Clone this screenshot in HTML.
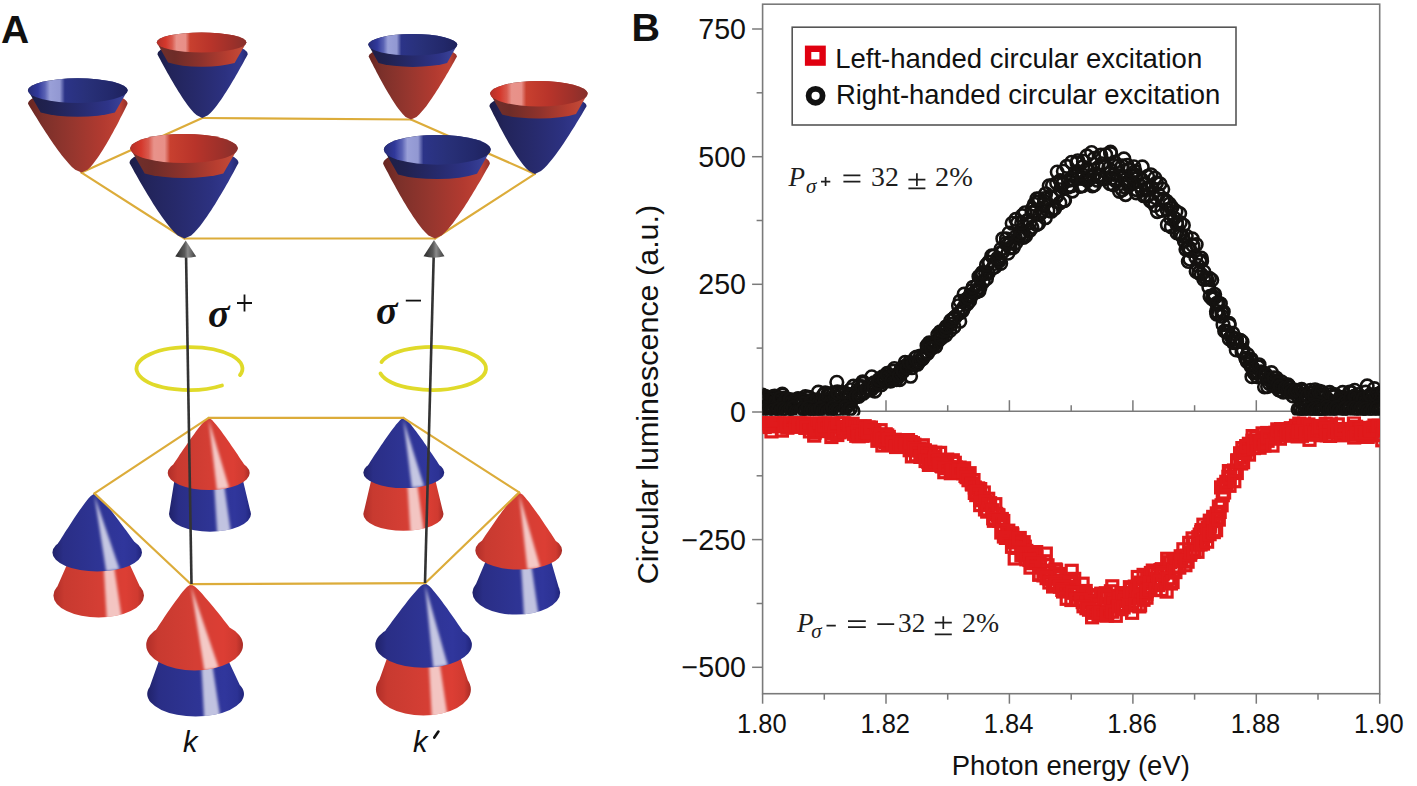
<!DOCTYPE html>
<html><head><meta charset="utf-8"><style>
html,body{margin:0;padding:0;background:#fff;}
svg{display:block;}
</style></head><body>
<svg width="1417" height="786" viewBox="0 0 1417 786">
<rect width="1417" height="786" fill="#fff"/>
<defs><linearGradient id="cbR" x1="0" y1="0" x2="1" y2="0"><stop offset="0" stop-color="#682622"/><stop offset="0.15" stop-color="#7c302a"/><stop offset="0.45" stop-color="#96362e"/><stop offset="0.75" stop-color="#b23a30"/><stop offset="0.92" stop-color="#c04234"/><stop offset="1" stop-color="#92302a"/></linearGradient><linearGradient id="cbB" x1="0" y1="0" x2="1" y2="0"><stop offset="0" stop-color="#1c1d48"/><stop offset="0.15" stop-color="#22245a"/><stop offset="0.45" stop-color="#272a6c"/><stop offset="0.75" stop-color="#2c3180"/><stop offset="0.92" stop-color="#32388e"/><stop offset="1" stop-color="#242870"/></linearGradient><linearGradient id="ciR" x1="0" y1="0" x2="1" y2="0"><stop offset="0" stop-color="#b43028"/><stop offset="0.1" stop-color="#d4382c"/><stop offset="0.17" stop-color="#d85a4e"/><stop offset="0.22" stop-color="#e8928a"/><stop offset="0.32" stop-color="#e89088"/><stop offset="0.37" stop-color="#c8402f"/><stop offset="0.6" stop-color="#b8342a"/><stop offset="0.85" stop-color="#9c302a"/><stop offset="1" stop-color="#86302c"/></linearGradient><linearGradient id="ciB" x1="0" y1="0" x2="1" y2="0"><stop offset="0" stop-color="#262c78"/><stop offset="0.1" stop-color="#30389a"/><stop offset="0.17" stop-color="#5a62b4"/><stop offset="0.22" stop-color="#9aa0d8"/><stop offset="0.32" stop-color="#9298d2"/><stop offset="0.37" stop-color="#2c3488"/><stop offset="0.6" stop-color="#283078"/><stop offset="0.85" stop-color="#22286a"/><stop offset="1" stop-color="#1e225c"/></linearGradient><linearGradient id="cdR" x1="0" y1="0" x2="1" y2="0"><stop offset="0" stop-color="#70302c"/><stop offset="0.2" stop-color="#6e2c28"/><stop offset="0.5" stop-color="#8e322c"/><stop offset="0.8" stop-color="#b83e30"/><stop offset="0.95" stop-color="#c24a38"/><stop offset="1" stop-color="#9a3a30"/></linearGradient><linearGradient id="cdB" x1="0" y1="0" x2="1" y2="0"><stop offset="0" stop-color="#1e1e44"/><stop offset="0.2" stop-color="#202250"/><stop offset="0.5" stop-color="#262a6c"/><stop offset="0.8" stop-color="#2e3488"/><stop offset="0.95" stop-color="#3a4298"/><stop offset="1" stop-color="#2a3080"/></linearGradient><linearGradient id="tR" x1="0" y1="0" x2="1" y2="0"><stop offset="0" stop-color="#b02e28"/><stop offset="0.12" stop-color="#c83a30"/><stop offset="0.5" stop-color="#d43e34"/><stop offset="0.8" stop-color="#dc3e34"/><stop offset="0.93" stop-color="#d03a30"/><stop offset="1" stop-color="#a82c26"/></linearGradient><linearGradient id="tB" x1="0" y1="0" x2="1" y2="0"><stop offset="0" stop-color="#20226a"/><stop offset="0.12" stop-color="#2a2e86"/><stop offset="0.5" stop-color="#2e3494"/><stop offset="0.8" stop-color="#30369c"/><stop offset="0.93" stop-color="#2c3294"/><stop offset="1" stop-color="#20247a"/></linearGradient><linearGradient id="fR" x1="0" y1="0" x2="1" y2="0"><stop offset="0" stop-color="#b02e28"/><stop offset="0.12" stop-color="#c83a30"/><stop offset="0.5" stop-color="#d43e34"/><stop offset="0.8" stop-color="#dc3e34"/><stop offset="0.93" stop-color="#d03a30"/><stop offset="1" stop-color="#a82c26"/></linearGradient><linearGradient id="fB" x1="0" y1="0" x2="1" y2="0"><stop offset="0" stop-color="#20226a"/><stop offset="0.12" stop-color="#2a2e86"/><stop offset="0.5" stop-color="#2e3494"/><stop offset="0.8" stop-color="#30369c"/><stop offset="0.93" stop-color="#2c3294"/><stop offset="1" stop-color="#20247a"/></linearGradient><filter id="bl2" x="-50%" y="-10%" width="200%" height="120%"><feGaussianBlur stdDeviation="1.8"/></filter><linearGradient id="arr" x1="0" y1="0" x2="1" y2="0"><stop offset="0" stop-color="#2a2a2a"/><stop offset="0.45" stop-color="#5a5a5a"/><stop offset="0.6" stop-color="#8a8a8a"/><stop offset="1" stop-color="#3a3a3a"/></linearGradient></defs>
<line x1="202.3" y1="118.0" x2="411.0" y2="119.5" stroke="#dcac3a" stroke-width="2.2" stroke-linecap="round"/>
<line x1="202.3" y1="118.0" x2="81.5" y2="172.6" stroke="#dcac3a" stroke-width="2.2" stroke-linecap="round"/>
<line x1="81.5" y1="172.6" x2="184.5" y2="238.5" stroke="#dcac3a" stroke-width="2.2" stroke-linecap="round"/>
<line x1="184.5" y1="238.5" x2="435.0" y2="238.5" stroke="#dcac3a" stroke-width="2.2" stroke-linecap="round"/>
<line x1="435.0" y1="238.5" x2="534.9" y2="173.9" stroke="#dcac3a" stroke-width="2.2" stroke-linecap="round"/>
<line x1="534.9" y1="173.9" x2="411.0" y2="119.5" stroke="#dcac3a" stroke-width="2.2" stroke-linecap="round"/>
<path d="M157.4,54.3 158.8,57.0 160.2,59.6 161.6,62.3 163.1,64.9 164.5,67.6 166.0,70.2 167.5,72.9 169.0,75.5 170.5,78.2 172.0,80.8 173.6,83.5 175.2,86.2 176.8,88.8 178.4,91.5 180.1,94.1 181.8,96.8 183.6,99.4 185.4,102.1 187.3,104.7 189.4,107.4 191.5,110.0 193.9,112.7 196.8,115.3 202.3,118.0 L207.9,115.3 210.7,112.7 213.2,110.0 215.3,107.4 217.4,104.7 219.3,102.1 221.2,99.4 223.0,96.8 224.7,94.1 226.4,91.5 228.1,88.8 229.7,86.2 231.3,83.5 232.9,80.8 234.5,78.2 236.0,75.5 237.5,72.9 239.0,70.2 240.5,67.6 242.0,64.9 243.5,62.3 244.9,59.6 246.4,57.0 247.8,54.3 A45.2,12.5 0 0 0 157.4,54.3 Z" fill="url(#cbB)"/><path d="M156.8,42.4 L168.1,62.4 A45.2,12.5 0 0 0 234.6,63.1 L246.4,42.4 A44.8,10.0 0 0 0 156.8,42.4 Z" fill="url(#cdR)"/><ellipse cx="201.6" cy="42.4" rx="44.8" ry="10.0" fill="url(#ciR)"/>
<path d="M368.6,56.4 369.9,59.0 371.2,61.7 372.6,64.3 373.9,66.9 375.3,69.5 376.6,72.2 378.0,74.8 379.4,77.4 380.8,80.1 382.3,82.7 383.7,85.3 385.2,88.0 386.7,90.6 388.3,93.2 389.9,95.8 391.5,98.5 393.1,101.1 394.9,103.7 396.7,106.4 398.6,109.0 400.6,111.6 402.9,114.2 405.6,116.9 411.0,119.5 L416.5,116.9 419.4,114.2 421.8,111.6 424.0,109.0 426.1,106.4 428.0,103.7 429.9,101.1 431.7,98.5 433.5,95.8 435.2,93.2 436.9,90.6 438.6,88.0 440.2,85.3 441.8,82.7 443.4,80.1 445.0,77.4 446.5,74.8 448.1,72.2 449.6,69.5 451.1,66.9 452.6,64.3 454.1,61.7 455.5,59.0 457.0,56.4 A44.2,10.5 0 0 0 368.6,56.4 Z" fill="url(#cbR)"/><path d="M368.3,44.8 L378.5,63.0 A44.2,10.5 0 0 0 447.1,63.0 L457.3,44.8 A44.5,10.8 0 0 0 368.3,44.8 Z" fill="url(#cdB)"/><ellipse cx="412.8" cy="44.8" rx="44.5" ry="10.8" fill="url(#ciB)"/>
<path d="M28.0,103.8 29.7,106.7 31.4,109.5 33.2,112.4 34.9,115.3 36.7,118.1 38.5,121.0 40.3,123.9 42.1,126.7 43.9,129.6 45.8,132.5 47.7,135.3 49.6,138.2 51.5,141.1 53.5,143.9 55.5,146.8 57.6,149.7 59.7,152.5 61.9,155.4 64.2,158.3 66.6,161.1 69.1,164.0 71.9,166.9 75.2,169.7 81.5,172.6 L87.5,169.7 90.5,166.9 93.0,164.0 95.2,161.1 97.3,158.3 99.2,155.4 101.1,152.5 102.9,149.7 104.7,146.8 106.4,143.9 108.1,141.1 109.7,138.2 111.3,135.3 112.9,132.5 114.4,129.6 116.0,126.7 117.5,123.9 119.0,121.0 120.4,118.1 121.9,115.3 123.3,112.4 124.8,109.5 126.2,106.7 127.6,103.8 A49.8,13.0 0 0 0 28.0,103.8 Z" fill="url(#cbR)"/><path d="M28.0,90.6 L40.7,112.5 A49.8,13.0 0 0 0 114.9,112.5 L127.6,90.6 A49.8,12.4 0 0 0 28.0,90.6 Z" fill="url(#cdB)"/><ellipse cx="77.8" cy="90.6" rx="49.8" ry="12.4" fill="url(#ciB)"/>
<path d="M489.4,106.2 490.8,109.0 492.2,111.8 493.6,114.7 495.1,117.5 496.5,120.3 498.0,123.1 499.4,125.9 500.9,128.8 502.4,131.6 504.0,134.4 505.5,137.2 507.1,140.1 508.7,142.9 510.4,145.7 512.1,148.5 513.8,151.3 515.6,154.2 517.4,157.0 519.4,159.8 521.4,162.6 523.7,165.4 526.1,168.3 529.1,171.1 534.9,173.9 L541.0,171.1 544.2,168.3 546.9,165.4 549.4,162.6 551.7,159.8 553.9,157.0 556.0,154.2 558.1,151.3 560.1,148.5 562.0,145.7 563.9,142.9 565.8,140.1 567.6,137.2 569.4,134.4 571.2,131.6 573.0,128.8 574.8,125.9 576.5,123.1 578.2,120.3 579.9,117.5 581.6,114.7 583.3,111.8 584.9,109.0 586.6,106.2 A48.6,12.3 0 0 0 489.4,106.2 Z" fill="url(#cbB)"/><path d="M490.2,93.7 L502.1,114.5 A48.6,12.3 0 0 0 576.0,113.9 L587.6,93.7 A48.7,12.7 0 0 0 490.2,93.7 Z" fill="url(#cdR)"/><ellipse cx="538.9" cy="93.7" rx="48.7" ry="12.7" fill="url(#ciR)"/>
<path d="M129.5,163.0 131.2,166.1 133.0,169.3 134.7,172.4 136.5,175.6 138.3,178.7 140.1,181.9 141.9,185.0 143.8,188.2 145.6,191.3 147.5,194.5 149.4,197.6 151.4,200.8 153.3,203.9 155.3,207.0 157.4,210.2 159.5,213.3 161.7,216.5 163.9,219.6 166.3,222.8 168.8,225.9 171.4,229.1 174.3,232.2 177.8,235.4 184.5,238.5 L191.2,235.4 194.6,232.2 197.5,229.1 200.1,225.9 202.5,222.8 204.8,219.6 207.0,216.5 209.1,213.3 211.2,210.2 213.2,207.0 215.2,203.9 217.1,200.8 219.0,197.6 220.9,194.5 222.8,191.3 224.6,188.2 226.4,185.0 228.2,181.9 229.9,178.7 231.7,175.6 233.4,172.4 235.1,169.3 236.8,166.1 238.5,163.0 A54.5,15.0 0 0 0 129.5,163.0 Z" fill="url(#cbB)"/><path d="M130.3,148.5 L144.7,173.4 A54.5,15.0 0 0 0 223.3,173.4 L237.7,148.5 A53.7,14.5 0 0 0 130.3,148.5 Z" fill="url(#cdR)"/><ellipse cx="184.0" cy="148.5" rx="53.7" ry="14.5" fill="url(#ciR)"/>
<path d="M383.1,163.8 384.7,166.9 386.3,170.0 388.0,173.1 389.6,176.2 391.3,179.4 393.0,182.5 394.7,185.6 396.4,188.7 398.1,191.8 399.9,194.9 401.7,198.0 403.5,201.2 405.4,204.3 407.3,207.4 409.2,210.5 411.2,213.6 413.2,216.7 415.4,219.8 417.6,222.9 419.9,226.1 422.4,229.2 425.2,232.3 428.5,235.4 435.0,238.5 L441.6,235.4 445.1,232.3 448.0,229.2 450.6,226.1 453.1,222.9 455.4,219.8 457.6,216.7 459.8,213.6 461.9,210.5 464.0,207.4 466.0,204.3 468.0,201.2 469.9,198.0 471.8,194.9 473.7,191.8 475.6,188.7 477.4,185.6 479.3,182.5 481.1,179.4 482.9,176.2 484.7,173.1 486.4,170.0 488.2,166.9 489.9,163.8 A53.4,15.3 0 0 0 383.1,163.8 Z" fill="url(#cbR)"/><path d="M383.9,149.8 L398.0,174.4 A53.4,15.3 0 0 0 477.0,173.8 L490.7,149.8 A53.4,14.9 0 0 0 383.9,149.8 Z" fill="url(#cdB)"/><ellipse cx="437.3" cy="149.8" rx="53.4" ry="14.9" fill="url(#ciB)"/>
<clipPath id="fc1"><path d="M175.6,473.0 L241.2,473.0 L251.0,514.0 A41.0,17.7 0 0 1 169.0,514.0 Z M251.0,514.0 A41.0,17.7 0 1 1 169.0,514.0 A41.0,17.7 0 1 1 251.0,514.0 Z"/></clipPath><path d="M175.6,473.0 L241.2,473.0 L251.0,514.0 A41.0,17.7 0 0 1 169.0,514.0 Z M251.0,514.0 A41.0,17.7 0 1 1 169.0,514.0 A41.0,17.7 0 1 1 251.0,514.0 Z" fill="url(#fB)"/><path clip-path="url(#fc1)" d="M213.4,473.0 L222.4,473.0 L231.3,535.7 L217.4,535.7 Z" fill="#fff" fill-opacity="0.7" filter="url(#bl2)"/><clipPath id="tc1"><path d="M167.7,473.0 169.2,470.7 170.7,468.4 172.2,466.1 173.7,463.8 175.2,461.5 176.8,459.2 178.3,456.9 179.8,454.6 181.4,452.3 182.9,450.0 184.5,447.7 186.1,445.4 187.7,443.1 189.3,440.8 190.9,438.5 192.5,436.2 194.2,433.9 195.9,431.6 197.6,429.3 199.4,427.0 201.2,424.7 203.2,422.4 205.3,420.1 208.7,417.8 L212.1,420.1 214.2,422.4 216.2,424.7 218.0,427.0 219.8,429.3 221.5,431.6 223.2,433.9 224.9,436.2 226.5,438.5 228.1,440.8 229.7,443.1 231.3,445.4 232.9,447.7 234.5,450.0 236.0,452.3 237.6,454.6 239.1,456.9 240.6,459.2 242.2,461.5 243.7,463.8 245.2,466.1 246.7,468.4 248.2,470.7 249.7,473.0 A41.0,17.0 0 0 1 167.7,473.0 Z M249.7,473.0 A41.0,17.0 0 1 1 167.7,473.0 A41.0,17.0 0 1 1 249.7,473.0 Z"/></clipPath><path d="M167.7,473.0 169.2,470.7 170.7,468.4 172.2,466.1 173.7,463.8 175.2,461.5 176.8,459.2 178.3,456.9 179.8,454.6 181.4,452.3 182.9,450.0 184.5,447.7 186.1,445.4 187.7,443.1 189.3,440.8 190.9,438.5 192.5,436.2 194.2,433.9 195.9,431.6 197.6,429.3 199.4,427.0 201.2,424.7 203.2,422.4 205.3,420.1 208.7,417.8 L212.1,420.1 214.2,422.4 216.2,424.7 218.0,427.0 219.8,429.3 221.5,431.6 223.2,433.9 224.9,436.2 226.5,438.5 228.1,440.8 229.7,443.1 231.3,445.4 232.9,447.7 234.5,450.0 236.0,452.3 237.6,454.6 239.1,456.9 240.6,459.2 242.2,461.5 243.7,463.8 245.2,466.1 246.7,468.4 248.2,470.7 249.7,473.0 A41.0,17.0 0 0 1 167.7,473.0 Z M249.7,473.0 A41.0,17.0 0 1 1 167.7,473.0 A41.0,17.0 0 1 1 249.7,473.0 Z" fill="url(#tR)"/><path clip-path="url(#tc1)" d="M208.7,419.8 L229.2,488.3 L216.9,490.0 Z" fill="#fff" fill-opacity="0.72" filter="url(#bl2)"/>
<clipPath id="fc2"><path d="M373.0,472.5 L433.5,472.5 L443.5,514.0 A40.1,16.8 0 0 1 363.3,514.0 Z M443.5,514.0 A40.1,16.8 0 1 1 363.3,514.0 A40.1,16.8 0 1 1 443.5,514.0 Z"/></clipPath><path d="M373.0,472.5 L433.5,472.5 L443.5,514.0 A40.1,16.8 0 0 1 363.3,514.0 Z M443.5,514.0 A40.1,16.8 0 1 1 363.3,514.0 A40.1,16.8 0 1 1 443.5,514.0 Z" fill="url(#fR)"/><path clip-path="url(#fc2)" d="M406.6,472.5 L415.6,472.5 L424.3,534.8 L410.6,534.8 Z" fill="#fff" fill-opacity="0.7" filter="url(#bl2)"/><clipPath id="tc2"><path d="M363.3,472.5 364.8,470.2 366.2,467.9 367.7,465.7 369.2,463.4 370.7,461.1 372.2,458.8 373.6,456.5 375.1,454.3 376.7,452.0 378.2,449.7 379.7,447.4 381.3,445.1 382.8,442.9 384.4,440.6 386.0,438.3 387.6,436.0 389.2,433.8 390.8,431.5 392.5,429.2 394.3,426.9 396.1,424.6 398.0,422.4 400.1,420.1 403.4,417.8 L406.7,420.1 408.9,422.4 410.8,424.6 412.7,426.9 414.4,429.2 416.2,431.5 417.8,433.8 419.5,436.0 421.1,438.3 422.8,440.6 424.4,442.9 425.9,445.1 427.5,447.4 429.1,449.7 430.6,452.0 432.2,454.3 433.7,456.5 435.2,458.8 436.8,461.1 438.3,463.4 439.8,465.7 441.3,467.9 442.8,470.2 444.3,472.5 A40.5,15.6 0 0 1 363.3,472.5 Z M444.3,472.5 A40.5,15.6 0 1 1 363.3,472.5 A40.5,15.6 0 1 1 444.3,472.5 Z"/></clipPath><path d="M363.3,472.5 364.8,470.2 366.2,467.9 367.7,465.7 369.2,463.4 370.7,461.1 372.2,458.8 373.6,456.5 375.1,454.3 376.7,452.0 378.2,449.7 379.7,447.4 381.3,445.1 382.8,442.9 384.4,440.6 386.0,438.3 387.6,436.0 389.2,433.8 390.8,431.5 392.5,429.2 394.3,426.9 396.1,424.6 398.0,422.4 400.1,420.1 403.4,417.8 L406.7,420.1 408.9,422.4 410.8,424.6 412.7,426.9 414.4,429.2 416.2,431.5 417.8,433.8 419.5,436.0 421.1,438.3 422.8,440.6 424.4,442.9 425.9,445.1 427.5,447.4 429.1,449.7 430.6,452.0 432.2,454.3 433.7,456.5 435.2,458.8 436.8,461.1 438.3,463.4 439.8,465.7 441.3,467.9 442.8,470.2 444.3,472.5 A40.5,15.6 0 0 1 363.3,472.5 Z M444.3,472.5 A40.5,15.6 0 1 1 363.3,472.5 A40.5,15.6 0 1 1 444.3,472.5 Z" fill="url(#tB)"/><path clip-path="url(#tc2)" d="M403.4,419.8 L424.1,486.5 L411.9,488.1 Z" fill="#fff" fill-opacity="0.72" filter="url(#bl2)"/>
<clipPath id="fc3"><path d="M72.3,552.5 L124.2,552.5 L144.0,595.5 A45.3,22.0 0 0 1 53.4,595.5 Z M144.0,595.5 A45.3,22.0 0 1 1 53.4,595.5 A45.3,22.0 0 1 1 144.0,595.5 Z"/></clipPath><path d="M72.3,552.5 L124.2,552.5 L144.0,595.5 A45.3,22.0 0 0 1 53.4,595.5 Z M144.0,595.5 A45.3,22.0 0 1 1 53.4,595.5 A45.3,22.0 0 1 1 144.0,595.5 Z" fill="url(#fR)"/><path clip-path="url(#fc3)" d="M102.9,552.5 L111.9,552.5 L122.3,621.5 L106.9,621.5 Z" fill="#fff" fill-opacity="0.7" filter="url(#bl2)"/><clipPath id="tc3"><path d="M52.4,552.5 53.9,550.0 55.4,547.6 57.0,545.1 58.5,542.6 60.1,540.2 61.6,537.7 63.2,535.3 64.7,532.8 66.3,530.3 67.9,527.9 69.5,525.4 71.1,523.0 72.7,520.5 74.3,518.0 76.0,515.6 77.7,513.1 79.4,510.6 81.1,508.2 82.9,505.7 84.7,503.2 86.6,500.8 88.6,498.3 90.8,495.9 94.4,493.4 L98.2,495.9 100.7,498.3 102.9,500.8 105.0,503.2 107.1,505.7 109.1,508.2 111.1,510.6 113.0,513.1 114.9,515.6 116.8,518.0 118.7,520.5 120.5,523.0 122.4,525.4 124.2,527.9 126.0,530.3 127.8,532.8 129.6,535.3 131.4,537.7 133.2,540.2 135.0,542.6 136.7,545.1 138.5,547.6 140.2,550.0 142.0,552.5 A44.8,19.0 0 0 1 52.4,552.5 Z M142.0,552.5 A44.8,19.0 0 1 1 52.4,552.5 A44.8,19.0 0 1 1 142.0,552.5 Z"/></clipPath><path d="M52.4,552.5 53.9,550.0 55.4,547.6 57.0,545.1 58.5,542.6 60.1,540.2 61.6,537.7 63.2,535.3 64.7,532.8 66.3,530.3 67.9,527.9 69.5,525.4 71.1,523.0 72.7,520.5 74.3,518.0 76.0,515.6 77.7,513.1 79.4,510.6 81.1,508.2 82.9,505.7 84.7,503.2 86.6,500.8 88.6,498.3 90.8,495.9 94.4,493.4 L98.2,495.9 100.7,498.3 102.9,500.8 105.0,503.2 107.1,505.7 109.1,508.2 111.1,510.6 113.0,513.1 114.9,515.6 116.8,518.0 118.7,520.5 120.5,523.0 122.4,525.4 124.2,527.9 126.0,530.3 127.8,532.8 129.6,535.3 131.4,537.7 133.2,540.2 135.0,542.6 136.7,545.1 138.5,547.6 140.2,550.0 142.0,552.5 A44.8,19.0 0 0 1 52.4,552.5 Z M142.0,552.5 A44.8,19.0 0 1 1 52.4,552.5 A44.8,19.0 0 1 1 142.0,552.5 Z" fill="url(#tB)"/><path clip-path="url(#tc3)" d="M94.4,495.4 L119.6,569.6 L106.2,571.5 Z" fill="#fff" fill-opacity="0.72" filter="url(#bl2)"/>
<clipPath id="fc4"><path d="M490.2,550.6 L548.0,550.6 L560.2,592.6 A43.9,22.0 0 0 1 472.4,592.6 Z M560.2,592.6 A43.9,22.0 0 1 1 472.4,592.6 A43.9,22.0 0 1 1 560.2,592.6 Z"/></clipPath><path d="M490.2,550.6 L548.0,550.6 L560.2,592.6 A43.9,22.0 0 0 1 472.4,592.6 Z M560.2,592.6 A43.9,22.0 0 1 1 472.4,592.6 A43.9,22.0 0 1 1 560.2,592.6 Z" fill="url(#fB)"/><path clip-path="url(#fc4)" d="M520.2,550.6 L529.2,550.6 L539.1,618.6 L524.2,618.6 Z" fill="#fff" fill-opacity="0.7" filter="url(#bl2)"/><clipPath id="tc4"><path d="M475.3,550.6 476.9,548.2 478.5,545.8 480.1,543.3 481.8,540.9 483.4,538.5 485.0,536.0 486.7,533.6 488.3,531.2 490.0,528.8 491.6,526.4 493.3,523.9 495.0,521.5 496.7,519.1 498.4,516.6 500.2,514.2 501.9,511.8 503.7,509.4 505.5,506.9 507.4,504.5 509.3,502.1 511.2,499.7 513.3,497.2 515.6,494.8 519.2,492.4 L522.8,494.8 525.0,497.2 527.0,499.7 529.0,502.1 530.8,504.5 532.6,506.9 534.4,509.4 536.1,511.8 537.9,514.2 539.6,516.6 541.2,519.1 542.9,521.5 544.5,523.9 546.2,526.4 547.8,528.8 549.4,531.2 551.0,533.6 552.6,536.0 554.2,538.5 555.8,540.9 557.4,543.3 559.0,545.8 560.5,548.2 562.1,550.6 A43.4,19.0 0 0 1 475.3,550.6 Z M562.1,550.6 A43.4,19.0 0 1 1 475.3,550.6 A43.4,19.0 0 1 1 562.1,550.6 Z"/></clipPath><path d="M475.3,550.6 476.9,548.2 478.5,545.8 480.1,543.3 481.8,540.9 483.4,538.5 485.0,536.0 486.7,533.6 488.3,531.2 490.0,528.8 491.6,526.4 493.3,523.9 495.0,521.5 496.7,519.1 498.4,516.6 500.2,514.2 501.9,511.8 503.7,509.4 505.5,506.9 507.4,504.5 509.3,502.1 511.2,499.7 513.3,497.2 515.6,494.8 519.2,492.4 L522.8,494.8 525.0,497.2 527.0,499.7 529.0,502.1 530.8,504.5 532.6,506.9 534.4,509.4 536.1,511.8 537.9,514.2 539.6,516.6 541.2,519.1 542.9,521.5 544.5,523.9 546.2,526.4 547.8,528.8 549.4,531.2 551.0,533.6 552.6,536.0 554.2,538.5 555.8,540.9 557.4,543.3 559.0,545.8 560.5,548.2 562.1,550.6 A43.4,19.0 0 0 1 475.3,550.6 Z M562.1,550.6 A43.4,19.0 0 1 1 475.3,550.6 A43.4,19.0 0 1 1 562.1,550.6 Z" fill="url(#tR)"/><path clip-path="url(#tc4)" d="M519.2,494.4 L540.4,567.7 L527.4,569.6 Z" fill="#fff" fill-opacity="0.72" filter="url(#bl2)"/>
<clipPath id="fc5"><path d="M164.5,645.0 L221.1,645.0 L244.0,694.0 A48.4,22.5 0 0 1 147.2,694.0 Z M244.0,694.0 A48.4,22.5 0 1 1 147.2,694.0 A48.4,22.5 0 1 1 244.0,694.0 Z"/></clipPath><path d="M164.5,645.0 L221.1,645.0 L244.0,694.0 A48.4,22.5 0 0 1 147.2,694.0 Z M244.0,694.0 A48.4,22.5 0 1 1 147.2,694.0 A48.4,22.5 0 1 1 244.0,694.0 Z" fill="url(#fB)"/><path clip-path="url(#fc5)" d="M200.3,645.0 L209.3,645.0 L220.8,720.5 L204.3,720.5 Z" fill="#fff" fill-opacity="0.7" filter="url(#bl2)"/><clipPath id="tc5"><path d="M146.2,645.0 147.8,642.5 149.4,639.9 151.1,637.4 152.7,634.9 154.3,632.3 156.0,629.8 157.7,627.3 159.3,624.7 161.0,622.2 162.7,619.7 164.4,617.1 166.1,614.6 167.8,612.1 169.6,609.5 171.3,607.0 173.1,604.5 174.9,601.9 176.8,599.4 178.7,596.9 180.6,594.3 182.6,591.8 184.8,589.3 187.2,586.7 191.0,584.2 L195.1,586.7 197.8,589.3 200.3,591.8 202.6,594.3 204.8,596.9 207.0,599.4 209.2,601.9 211.3,604.5 213.4,607.0 215.4,609.5 217.5,612.1 219.5,614.6 221.5,617.1 223.5,619.7 225.5,622.2 227.5,624.7 229.4,627.3 231.4,629.8 233.4,632.3 235.3,634.9 237.2,637.4 239.2,639.9 241.1,642.5 243.0,645.0 A48.4,25.5 0 0 1 146.2,645.0 Z M243.0,645.0 A48.4,25.5 0 1 1 146.2,645.0 A48.4,25.5 0 1 1 243.0,645.0 Z"/></clipPath><path d="M146.2,645.0 147.8,642.5 149.4,639.9 151.1,637.4 152.7,634.9 154.3,632.3 156.0,629.8 157.7,627.3 159.3,624.7 161.0,622.2 162.7,619.7 164.4,617.1 166.1,614.6 167.8,612.1 169.6,609.5 171.3,607.0 173.1,604.5 174.9,601.9 176.8,599.4 178.7,596.9 180.6,594.3 182.6,591.8 184.8,589.3 187.2,586.7 191.0,584.2 L195.1,586.7 197.8,589.3 200.3,591.8 202.6,594.3 204.8,596.9 207.0,599.4 209.2,601.9 211.3,604.5 213.4,607.0 215.4,609.5 217.5,612.1 219.5,614.6 221.5,617.1 223.5,619.7 225.5,622.2 227.5,624.7 229.4,627.3 231.4,629.8 233.4,632.3 235.3,634.9 237.2,637.4 239.2,639.9 241.1,642.5 243.0,645.0 A48.4,25.5 0 0 1 146.2,645.0 Z M243.0,645.0 A48.4,25.5 0 1 1 146.2,645.0 A48.4,25.5 0 1 1 243.0,645.0 Z" fill="url(#tR)"/><path clip-path="url(#tc5)" d="M191.0,586.2 L218.8,668.0 L204.3,670.5 Z" fill="#fff" fill-opacity="0.72" filter="url(#bl2)"/>
<clipPath id="fc6"><path d="M391.8,644.7 L456.1,644.7 L470.9,689.5 A47.5,26.0 0 0 1 375.9,689.5 Z M470.9,689.5 A47.5,26.0 0 1 1 375.9,689.5 A47.5,26.0 0 1 1 470.9,689.5 Z"/></clipPath><path d="M391.8,644.7 L456.1,644.7 L470.9,689.5 A47.5,26.0 0 0 1 375.9,689.5 Z M470.9,689.5 A47.5,26.0 0 1 1 375.9,689.5 A47.5,26.0 0 1 1 470.9,689.5 Z" fill="url(#fR)"/><path clip-path="url(#fc6)" d="M427.9,644.7 L436.9,644.7 L448.1,719.5 L431.9,719.5 Z" fill="#fff" fill-opacity="0.7" filter="url(#bl2)"/><clipPath id="tc6"><path d="M375.3,644.7 377.1,642.1 379.0,639.6 380.8,637.0 382.6,634.5 384.5,631.9 386.3,629.3 388.2,626.8 390.1,624.2 392.0,621.6 393.9,619.1 395.8,616.5 397.7,614.0 399.6,611.4 401.6,608.8 403.6,606.3 405.6,603.7 407.6,601.1 409.6,598.6 411.7,596.0 413.9,593.5 416.1,590.9 418.5,588.3 421.1,585.8 425.1,583.2 L429.0,585.8 431.5,588.3 433.7,590.9 435.8,593.5 437.8,596.0 439.8,598.6 441.7,601.1 443.6,603.7 445.5,606.3 447.4,608.8 449.2,611.4 451.0,614.0 452.8,616.5 454.6,619.1 456.3,621.6 458.1,624.2 459.9,626.8 461.6,629.3 463.3,631.9 465.1,634.5 466.8,637.0 468.5,639.6 470.2,642.1 471.9,644.7 A48.3,23.0 0 0 1 375.3,644.7 Z M471.9,644.7 A48.3,23.0 0 1 1 375.3,644.7 A48.3,23.0 0 1 1 471.9,644.7 Z"/></clipPath><path d="M375.3,644.7 377.1,642.1 379.0,639.6 380.8,637.0 382.6,634.5 384.5,631.9 386.3,629.3 388.2,626.8 390.1,624.2 392.0,621.6 393.9,619.1 395.8,616.5 397.7,614.0 399.6,611.4 401.6,608.8 403.6,606.3 405.6,603.7 407.6,601.1 409.6,598.6 411.7,596.0 413.9,593.5 416.1,590.9 418.5,588.3 421.1,585.8 425.1,583.2 L429.0,585.8 431.5,588.3 433.7,590.9 435.8,593.5 437.8,596.0 439.8,598.6 441.7,601.1 443.6,603.7 445.5,606.3 447.4,608.8 449.2,611.4 451.0,614.0 452.8,616.5 454.6,619.1 456.3,621.6 458.1,624.2 459.9,626.8 461.6,629.3 463.3,631.9 465.1,634.5 466.8,637.0 468.5,639.6 470.2,642.1 471.9,644.7 A48.3,23.0 0 0 1 375.3,644.7 Z M471.9,644.7 A48.3,23.0 0 1 1 375.3,644.7 A48.3,23.0 0 1 1 471.9,644.7 Z" fill="url(#tB)"/><path clip-path="url(#tc6)" d="M425.1,585.2 L447.8,665.4 L433.3,667.7 Z" fill="#fff" fill-opacity="0.72" filter="url(#bl2)"/>
<line x1="208.7" y1="417.8" x2="403.4" y2="417.8" stroke="#dcac3a" stroke-width="2.2" stroke-linecap="round"/>
<line x1="208.7" y1="417.8" x2="94.4" y2="493.4" stroke="#dcac3a" stroke-width="2.2" stroke-linecap="round"/>
<line x1="94.4" y1="493.4" x2="191.0" y2="584.2" stroke="#dcac3a" stroke-width="2.2" stroke-linecap="round"/>
<line x1="191.0" y1="584.2" x2="425.1" y2="583.2" stroke="#dcac3a" stroke-width="2.2" stroke-linecap="round"/>
<line x1="425.1" y1="583.2" x2="519.2" y2="492.4" stroke="#dcac3a" stroke-width="2.2" stroke-linecap="round"/>
<line x1="519.2" y1="492.4" x2="403.4" y2="417.8" stroke="#dcac3a" stroke-width="2.2" stroke-linecap="round"/>
<path d="M240,375 A53,21.5 0 1 0 222,385.5" fill="none" stroke="#e0da2a" stroke-width="3.8" stroke-linecap="round"/>
<path d="M381.5,362 A53.5,21.5 0 1 1 380.5,373.5" fill="none" stroke="#e0da2a" stroke-width="3.8" stroke-linecap="round"/>
<line x1="191.5" y1="584" x2="186" y2="252" stroke="#333" stroke-width="2.6"/>
<line x1="425" y1="583" x2="433.8" y2="252" stroke="#333" stroke-width="2.6"/>
<path d="M185.7,240.5 L196.2,256.6 Q186,259 175.2,256.6 Z" fill="url(#arr)"/>
<path d="M434,240 L444.5,256.3 Q434,259 423.5,256.3 Z" fill="url(#arr)"/>
<text x="1" y="42.7" font-family="Liberation Sans, sans-serif" font-weight="bold" font-size="39" fill="#111">A</text>
<text x="208" y="326.6" font-family="Liberation Serif, serif" font-weight="bold" font-style="italic" font-size="40" fill="#111">σ</text>
<path d="M237,303 H252 M244.5,294.5 V311.5" stroke="#111" stroke-width="1.8"/>
<text x="376" y="324.3" font-family="Liberation Serif, serif" font-weight="bold" font-style="italic" font-size="40" fill="#111">σ</text>
<path d="M405.8,300.6 H421" stroke="#111" stroke-width="1.8"/>
<text x="183" y="752.4" font-family="Liberation Sans, sans-serif" font-style="italic" font-size="29" fill="#111">k</text>
<text x="413" y="751.8" font-family="Liberation Sans, sans-serif" font-style="italic" font-size="29" fill="#111">k</text>
<path d="M438.4,731.6 L434.3,737.6" stroke="#111" stroke-width="2.7" stroke-linecap="round"/>
<rect x="762.6" y="4.2" width="617.1" height="689.5" fill="none" stroke="#7a7a7a" stroke-width="1.6"/>
<line x1="752.1" y1="29.0" x2="762.6" y2="29.0" stroke="#7a7a7a" stroke-width="1.5"/>
<line x1="752.1" y1="156.7" x2="762.6" y2="156.7" stroke="#7a7a7a" stroke-width="1.5"/>
<line x1="752.1" y1="284.3" x2="762.6" y2="284.3" stroke="#7a7a7a" stroke-width="1.5"/>
<line x1="752.1" y1="412.0" x2="762.6" y2="412.0" stroke="#7a7a7a" stroke-width="1.5"/>
<line x1="752.1" y1="539.6" x2="762.6" y2="539.6" stroke="#7a7a7a" stroke-width="1.5"/>
<line x1="752.1" y1="667.3" x2="762.6" y2="667.3" stroke="#7a7a7a" stroke-width="1.5"/>
<line x1="756.6" y1="92.8" x2="762.6" y2="92.8" stroke="#7a7a7a" stroke-width="1.5"/>
<line x1="756.6" y1="220.5" x2="762.6" y2="220.5" stroke="#7a7a7a" stroke-width="1.5"/>
<line x1="756.6" y1="348.1" x2="762.6" y2="348.1" stroke="#7a7a7a" stroke-width="1.5"/>
<line x1="756.6" y1="475.8" x2="762.6" y2="475.8" stroke="#7a7a7a" stroke-width="1.5"/>
<line x1="756.6" y1="603.5" x2="762.6" y2="603.5" stroke="#7a7a7a" stroke-width="1.5"/>
<line x1="762.6" y1="693.7" x2="762.6" y2="703.7" stroke="#7a7a7a" stroke-width="1.5"/>
<line x1="824.3" y1="693.7" x2="824.3" y2="699.7" stroke="#7a7a7a" stroke-width="1.5"/>
<line x1="886.0" y1="693.7" x2="886.0" y2="703.7" stroke="#7a7a7a" stroke-width="1.5"/>
<line x1="947.7" y1="693.7" x2="947.7" y2="699.7" stroke="#7a7a7a" stroke-width="1.5"/>
<line x1="1009.4" y1="693.7" x2="1009.4" y2="703.7" stroke="#7a7a7a" stroke-width="1.5"/>
<line x1="1071.2" y1="693.7" x2="1071.2" y2="699.7" stroke="#7a7a7a" stroke-width="1.5"/>
<line x1="1132.9" y1="693.7" x2="1132.9" y2="703.7" stroke="#7a7a7a" stroke-width="1.5"/>
<line x1="1194.6" y1="693.7" x2="1194.6" y2="699.7" stroke="#7a7a7a" stroke-width="1.5"/>
<line x1="1256.3" y1="693.7" x2="1256.3" y2="703.7" stroke="#7a7a7a" stroke-width="1.5"/>
<line x1="1318.0" y1="693.7" x2="1318.0" y2="699.7" stroke="#7a7a7a" stroke-width="1.5"/>
<line x1="1379.7" y1="693.7" x2="1379.7" y2="703.7" stroke="#7a7a7a" stroke-width="1.5"/>
<line x1="762.6" y1="411.2" x2="1379.7" y2="411.2" stroke="#7a7a7a" stroke-width="1.6"/>
<line x1="824.3" y1="411.2" x2="824.3" y2="405.2" stroke="#7a7a7a" stroke-width="1.5"/>
<line x1="886.0" y1="411.2" x2="886.0" y2="400.2" stroke="#7a7a7a" stroke-width="1.5"/>
<line x1="947.7" y1="411.2" x2="947.7" y2="405.2" stroke="#7a7a7a" stroke-width="1.5"/>
<line x1="1009.4" y1="411.2" x2="1009.4" y2="400.2" stroke="#7a7a7a" stroke-width="1.5"/>
<line x1="1071.2" y1="411.2" x2="1071.2" y2="405.2" stroke="#7a7a7a" stroke-width="1.5"/>
<line x1="1132.9" y1="411.2" x2="1132.9" y2="400.2" stroke="#7a7a7a" stroke-width="1.5"/>
<line x1="1194.6" y1="411.2" x2="1194.6" y2="405.2" stroke="#7a7a7a" stroke-width="1.5"/>
<line x1="1256.3" y1="411.2" x2="1256.3" y2="400.2" stroke="#7a7a7a" stroke-width="1.5"/>
<line x1="1318.0" y1="411.2" x2="1318.0" y2="405.2" stroke="#7a7a7a" stroke-width="1.5"/>
<clipPath id="cb"><rect x="762.6" y="0" width="617.1" height="415.6"/></clipPath>
<clipPath id="cr"><rect x="762.6" y="416.4" width="617.1" height="300.0"/></clipPath>
<g clip-path="url(#cb)" fill="none" stroke="#141210" stroke-width="2.6">
<circle cx="757.5" cy="402.3" r="6.25"/>
<circle cx="760.3" cy="396.7" r="6.25"/>
<circle cx="764.0" cy="396.2" r="6.25"/>
<circle cx="766.3" cy="406.8" r="6.25"/>
<circle cx="770.5" cy="397.7" r="6.25"/>
<circle cx="773.1" cy="402.2" r="6.25"/>
<circle cx="775.9" cy="396.5" r="6.25"/>
<circle cx="777.4" cy="404.1" r="6.25"/>
<circle cx="779.7" cy="399.0" r="6.25"/>
<circle cx="782.8" cy="395.3" r="6.25"/>
<circle cx="786.5" cy="400.3" r="6.25"/>
<circle cx="791.2" cy="402.8" r="6.25"/>
<circle cx="791.0" cy="400.9" r="6.25"/>
<circle cx="797.0" cy="399.4" r="6.25"/>
<circle cx="798.2" cy="402.3" r="6.25"/>
<circle cx="801.9" cy="399.4" r="6.25"/>
<circle cx="807.4" cy="397.6" r="6.25"/>
<circle cx="809.1" cy="397.4" r="6.25"/>
<circle cx="811.4" cy="404.9" r="6.25"/>
<circle cx="815.3" cy="400.1" r="6.25"/>
<circle cx="816.7" cy="400.7" r="6.25"/>
<circle cx="822.8" cy="400.5" r="6.25"/>
<circle cx="825.2" cy="392.8" r="6.25"/>
<circle cx="826.4" cy="400.0" r="6.25"/>
<circle cx="831.1" cy="408.2" r="6.25"/>
<circle cx="833.3" cy="393.0" r="6.25"/>
<circle cx="836.0" cy="400.8" r="6.25"/>
<circle cx="839.2" cy="400.8" r="6.25"/>
<circle cx="844.0" cy="400.3" r="6.25"/>
<circle cx="845.5" cy="393.7" r="6.25"/>
<circle cx="848.5" cy="394.2" r="6.25"/>
<circle cx="850.6" cy="389.7" r="6.25"/>
<circle cx="855.4" cy="392.9" r="6.25"/>
<circle cx="855.8" cy="396.9" r="6.25"/>
<circle cx="861.1" cy="387.8" r="6.25"/>
<circle cx="862.8" cy="381.7" r="6.25"/>
<circle cx="867.9" cy="388.1" r="6.25"/>
<circle cx="869.0" cy="390.1" r="6.25"/>
<circle cx="872.1" cy="384.7" r="6.25"/>
<circle cx="874.9" cy="391.1" r="6.25"/>
<circle cx="878.9" cy="382.6" r="6.25"/>
<circle cx="881.2" cy="382.1" r="6.25"/>
<circle cx="884.5" cy="377.0" r="6.25"/>
<circle cx="888.9" cy="378.4" r="6.25"/>
<circle cx="890.5" cy="381.2" r="6.25"/>
<circle cx="893.1" cy="379.7" r="6.25"/>
<circle cx="896.5" cy="379.6" r="6.25"/>
<circle cx="898.0" cy="376.1" r="6.25"/>
<circle cx="900.5" cy="373.6" r="6.25"/>
<circle cx="905.2" cy="362.4" r="6.25"/>
<circle cx="908.8" cy="365.4" r="6.25"/>
<circle cx="910.6" cy="376.3" r="6.25"/>
<circle cx="914.9" cy="362.6" r="6.25"/>
<circle cx="917.4" cy="364.3" r="6.25"/>
<circle cx="921.5" cy="358.7" r="6.25"/>
<circle cx="922.4" cy="358.8" r="6.25"/>
<circle cx="926.7" cy="353.6" r="6.25"/>
<circle cx="930.0" cy="346.9" r="6.25"/>
<circle cx="933.9" cy="344.9" r="6.25"/>
<circle cx="935.8" cy="346.3" r="6.25"/>
<circle cx="938.6" cy="340.4" r="6.25"/>
<circle cx="940.4" cy="331.7" r="6.25"/>
<circle cx="942.2" cy="337.1" r="6.25"/>
<circle cx="945.7" cy="335.1" r="6.25"/>
<circle cx="949.8" cy="330.7" r="6.25"/>
<circle cx="954.0" cy="326.8" r="6.25"/>
<circle cx="958.3" cy="313.5" r="6.25"/>
<circle cx="959.8" cy="321.4" r="6.25"/>
<circle cx="962.7" cy="310.6" r="6.25"/>
<circle cx="967.2" cy="303.8" r="6.25"/>
<circle cx="968.8" cy="301.5" r="6.25"/>
<circle cx="971.1" cy="296.5" r="6.25"/>
<circle cx="976.4" cy="290.6" r="6.25"/>
<circle cx="979.1" cy="290.8" r="6.25"/>
<circle cx="980.1" cy="287.2" r="6.25"/>
<circle cx="983.3" cy="281.6" r="6.25"/>
<circle cx="986.5" cy="278.7" r="6.25"/>
<circle cx="988.3" cy="273.2" r="6.25"/>
<circle cx="995.0" cy="267.0" r="6.25"/>
<circle cx="994.7" cy="263.5" r="6.25"/>
<circle cx="1000.7" cy="263.5" r="6.25"/>
<circle cx="1001.8" cy="252.4" r="6.25"/>
<circle cx="1002.9" cy="251.7" r="6.25"/>
<circle cx="1008.0" cy="253.2" r="6.25"/>
<circle cx="1010.2" cy="247.9" r="6.25"/>
<circle cx="1013.4" cy="247.4" r="6.25"/>
<circle cx="1015.8" cy="243.0" r="6.25"/>
<circle cx="1021.7" cy="236.7" r="6.25"/>
<circle cx="1023.5" cy="237.5" r="6.25"/>
<circle cx="1025.6" cy="236.0" r="6.25"/>
<circle cx="1029.9" cy="230.3" r="6.25"/>
<circle cx="1032.0" cy="227.3" r="6.25"/>
<circle cx="1036.6" cy="224.7" r="6.25"/>
<circle cx="1038.7" cy="223.5" r="6.25"/>
<circle cx="1039.6" cy="214.7" r="6.25"/>
<circle cx="1045.4" cy="217.8" r="6.25"/>
<circle cx="1047.9" cy="210.5" r="6.25"/>
<circle cx="1051.3" cy="211.3" r="6.25"/>
<circle cx="1052.7" cy="208.9" r="6.25"/>
<circle cx="1054.8" cy="208.3" r="6.25"/>
<circle cx="1059.9" cy="202.8" r="6.25"/>
<circle cx="1064.6" cy="200.5" r="6.25"/>
<circle cx="1064.0" cy="200.6" r="6.25"/>
<circle cx="1069.3" cy="185.6" r="6.25"/>
<circle cx="1071.4" cy="186.0" r="6.25"/>
<circle cx="1072.4" cy="191.1" r="6.25"/>
<circle cx="1077.7" cy="178.4" r="6.25"/>
<circle cx="1080.1" cy="186.4" r="6.25"/>
<circle cx="1082.4" cy="185.8" r="6.25"/>
<circle cx="1086.2" cy="179.0" r="6.25"/>
<circle cx="1087.5" cy="180.6" r="6.25"/>
<circle cx="1092.4" cy="186.0" r="6.25"/>
<circle cx="1094.3" cy="185.0" r="6.25"/>
<circle cx="1097.3" cy="180.3" r="6.25"/>
<circle cx="1101.7" cy="178.8" r="6.25"/>
<circle cx="1105.0" cy="178.7" r="6.25"/>
<circle cx="1110.0" cy="183.7" r="6.25"/>
<circle cx="1111.6" cy="178.3" r="6.25"/>
<circle cx="1113.6" cy="185.0" r="6.25"/>
<circle cx="1116.0" cy="181.1" r="6.25"/>
<circle cx="1119.5" cy="191.4" r="6.25"/>
<circle cx="1122.3" cy="189.8" r="6.25"/>
<circle cx="1125.6" cy="194.6" r="6.25"/>
<circle cx="1127.8" cy="181.8" r="6.25"/>
<circle cx="1127.8" cy="183.3" r="6.25"/>
<circle cx="1136.3" cy="189.6" r="6.25"/>
<circle cx="1136.3" cy="192.9" r="6.25"/>
<circle cx="1142.1" cy="190.2" r="6.25"/>
<circle cx="1143.8" cy="195.8" r="6.25"/>
<circle cx="1146.8" cy="196.2" r="6.25"/>
<circle cx="1150.4" cy="200.9" r="6.25"/>
<circle cx="1151.5" cy="200.5" r="6.25"/>
<circle cx="1154.9" cy="205.5" r="6.25"/>
<circle cx="1157.3" cy="211.6" r="6.25"/>
<circle cx="1161.8" cy="210.5" r="6.25"/>
<circle cx="1166.9" cy="209.6" r="6.25"/>
<circle cx="1167.3" cy="224.8" r="6.25"/>
<circle cx="1171.3" cy="226.8" r="6.25"/>
<circle cx="1174.2" cy="218.1" r="6.25"/>
<circle cx="1177.0" cy="233.0" r="6.25"/>
<circle cx="1179.6" cy="233.5" r="6.25"/>
<circle cx="1184.3" cy="241.1" r="6.25"/>
<circle cx="1185.9" cy="249.3" r="6.25"/>
<circle cx="1188.3" cy="261.5" r="6.25"/>
<circle cx="1189.8" cy="259.2" r="6.25"/>
<circle cx="1196.1" cy="271.3" r="6.25"/>
<circle cx="1198.8" cy="272.9" r="6.25"/>
<circle cx="1201.2" cy="274.3" r="6.25"/>
<circle cx="1203.8" cy="279.4" r="6.25"/>
<circle cx="1208.8" cy="287.3" r="6.25"/>
<circle cx="1210.0" cy="296.4" r="6.25"/>
<circle cx="1212.3" cy="299.0" r="6.25"/>
<circle cx="1216.7" cy="314.1" r="6.25"/>
<circle cx="1218.7" cy="314.4" r="6.25"/>
<circle cx="1222.0" cy="316.3" r="6.25"/>
<circle cx="1224.6" cy="331.0" r="6.25"/>
<circle cx="1227.8" cy="332.4" r="6.25"/>
<circle cx="1229.2" cy="338.8" r="6.25"/>
<circle cx="1233.1" cy="342.3" r="6.25"/>
<circle cx="1236.2" cy="349.9" r="6.25"/>
<circle cx="1242.0" cy="351.9" r="6.25"/>
<circle cx="1242.5" cy="351.6" r="6.25"/>
<circle cx="1246.2" cy="358.9" r="6.25"/>
<circle cx="1249.8" cy="359.4" r="6.25"/>
<circle cx="1251.9" cy="376.7" r="6.25"/>
<circle cx="1254.0" cy="372.8" r="6.25"/>
<circle cx="1256.8" cy="376.6" r="6.25"/>
<circle cx="1262.8" cy="372.7" r="6.25"/>
<circle cx="1265.6" cy="375.3" r="6.25"/>
<circle cx="1267.6" cy="386.7" r="6.25"/>
<circle cx="1272.7" cy="383.9" r="6.25"/>
<circle cx="1272.6" cy="381.8" r="6.25"/>
<circle cx="1276.4" cy="378.1" r="6.25"/>
<circle cx="1280.5" cy="390.3" r="6.25"/>
<circle cx="1281.3" cy="381.7" r="6.25"/>
<circle cx="1285.7" cy="384.8" r="6.25"/>
<circle cx="1288.7" cy="387.3" r="6.25"/>
<circle cx="1291.1" cy="390.6" r="6.25"/>
<circle cx="1294.7" cy="390.6" r="6.25"/>
<circle cx="1298.0" cy="391.8" r="6.25"/>
<circle cx="1301.2" cy="402.2" r="6.25"/>
<circle cx="1301.5" cy="395.3" r="6.25"/>
<circle cx="1304.2" cy="398.1" r="6.25"/>
<circle cx="1310.5" cy="390.3" r="6.25"/>
<circle cx="1312.3" cy="400.5" r="6.25"/>
<circle cx="1315.1" cy="389.8" r="6.25"/>
<circle cx="1319.3" cy="395.0" r="6.25"/>
<circle cx="1321.8" cy="408.9" r="6.25"/>
<circle cx="1323.2" cy="395.4" r="6.25"/>
<circle cx="1327.4" cy="399.1" r="6.25"/>
<circle cx="1330.7" cy="394.5" r="6.25"/>
<circle cx="1335.0" cy="394.6" r="6.25"/>
<circle cx="1337.9" cy="404.6" r="6.25"/>
<circle cx="1340.3" cy="397.3" r="6.25"/>
<circle cx="1342.2" cy="398.6" r="6.25"/>
<circle cx="1344.1" cy="397.5" r="6.25"/>
<circle cx="1349.6" cy="392.1" r="6.25"/>
<circle cx="1352.0" cy="397.7" r="6.25"/>
<circle cx="1352.6" cy="402.9" r="6.25"/>
<circle cx="1357.9" cy="394.5" r="6.25"/>
<circle cx="1360.3" cy="399.8" r="6.25"/>
<circle cx="1364.0" cy="402.5" r="6.25"/>
<circle cx="1365.7" cy="392.1" r="6.25"/>
<circle cx="1370.3" cy="401.2" r="6.25"/>
<circle cx="1374.4" cy="388.6" r="6.25"/>
<circle cx="1377.4" cy="400.0" r="6.25"/>
<circle cx="1378.5" cy="395.4" r="6.25"/>
<circle cx="1384.9" cy="392.0" r="6.25"/>
<circle cx="1386.8" cy="396.4" r="6.25"/>
<circle cx="1388.1" cy="394.2" r="6.25"/>
<circle cx="759.3" cy="399.1" r="6.25"/>
<circle cx="762.5" cy="395.1" r="6.25"/>
<circle cx="762.9" cy="402.3" r="6.25"/>
<circle cx="766.7" cy="398.3" r="6.25"/>
<circle cx="769.6" cy="400.3" r="6.25"/>
<circle cx="772.9" cy="396.8" r="6.25"/>
<circle cx="774.7" cy="396.0" r="6.25"/>
<circle cx="780.3" cy="400.7" r="6.25"/>
<circle cx="782.3" cy="394.1" r="6.25"/>
<circle cx="784.1" cy="398.3" r="6.25"/>
<circle cx="787.7" cy="405.4" r="6.25"/>
<circle cx="790.4" cy="408.5" r="6.25"/>
<circle cx="794.1" cy="403.6" r="6.25"/>
<circle cx="798.1" cy="398.5" r="6.25"/>
<circle cx="801.1" cy="401.1" r="6.25"/>
<circle cx="802.1" cy="401.4" r="6.25"/>
<circle cx="806.5" cy="400.9" r="6.25"/>
<circle cx="808.3" cy="405.5" r="6.25"/>
<circle cx="810.4" cy="400.7" r="6.25"/>
<circle cx="814.1" cy="403.6" r="6.25"/>
<circle cx="818.4" cy="392.1" r="6.25"/>
<circle cx="819.6" cy="405.2" r="6.25"/>
<circle cx="823.6" cy="394.8" r="6.25"/>
<circle cx="827.9" cy="394.1" r="6.25"/>
<circle cx="829.6" cy="395.1" r="6.25"/>
<circle cx="832.6" cy="401.1" r="6.25"/>
<circle cx="835.4" cy="399.9" r="6.25"/>
<circle cx="837.3" cy="391.9" r="6.25"/>
<circle cx="842.2" cy="405.6" r="6.25"/>
<circle cx="845.5" cy="397.6" r="6.25"/>
<circle cx="848.7" cy="396.8" r="6.25"/>
<circle cx="850.4" cy="403.5" r="6.25"/>
<circle cx="853.4" cy="386.1" r="6.25"/>
<circle cx="858.5" cy="386.4" r="6.25"/>
<circle cx="859.5" cy="393.5" r="6.25"/>
<circle cx="863.2" cy="383.4" r="6.25"/>
<circle cx="863.3" cy="393.3" r="6.25"/>
<circle cx="868.4" cy="388.6" r="6.25"/>
<circle cx="871.4" cy="389.4" r="6.25"/>
<circle cx="873.9" cy="382.9" r="6.25"/>
<circle cx="880.4" cy="378.9" r="6.25"/>
<circle cx="881.3" cy="384.8" r="6.25"/>
<circle cx="882.5" cy="376.8" r="6.25"/>
<circle cx="887.7" cy="377.4" r="6.25"/>
<circle cx="890.7" cy="376.9" r="6.25"/>
<circle cx="893.7" cy="371.1" r="6.25"/>
<circle cx="898.4" cy="373.7" r="6.25"/>
<circle cx="899.7" cy="379.7" r="6.25"/>
<circle cx="902.8" cy="367.4" r="6.25"/>
<circle cx="905.0" cy="366.4" r="6.25"/>
<circle cx="907.6" cy="366.9" r="6.25"/>
<circle cx="911.8" cy="367.8" r="6.25"/>
<circle cx="914.7" cy="363.9" r="6.25"/>
<circle cx="916.8" cy="357.1" r="6.25"/>
<circle cx="920.3" cy="356.1" r="6.25"/>
<circle cx="923.9" cy="355.1" r="6.25"/>
<circle cx="927.0" cy="345.7" r="6.25"/>
<circle cx="929.2" cy="342.9" r="6.25"/>
<circle cx="930.5" cy="344.1" r="6.25"/>
<circle cx="936.2" cy="342.7" r="6.25"/>
<circle cx="938.5" cy="338.8" r="6.25"/>
<circle cx="940.9" cy="334.6" r="6.25"/>
<circle cx="944.4" cy="330.8" r="6.25"/>
<circle cx="946.6" cy="328.0" r="6.25"/>
<circle cx="951.3" cy="324.4" r="6.25"/>
<circle cx="953.6" cy="318.6" r="6.25"/>
<circle cx="955.1" cy="317.2" r="6.25"/>
<circle cx="960.4" cy="312.6" r="6.25"/>
<circle cx="963.6" cy="307.7" r="6.25"/>
<circle cx="965.8" cy="299.7" r="6.25"/>
<circle cx="969.7" cy="300.7" r="6.25"/>
<circle cx="970.4" cy="294.8" r="6.25"/>
<circle cx="976.6" cy="291.9" r="6.25"/>
<circle cx="978.5" cy="289.3" r="6.25"/>
<circle cx="982.4" cy="274.5" r="6.25"/>
<circle cx="981.2" cy="275.7" r="6.25"/>
<circle cx="985.5" cy="273.3" r="6.25"/>
<circle cx="989.5" cy="262.2" r="6.25"/>
<circle cx="992.8" cy="268.0" r="6.25"/>
<circle cx="998.4" cy="259.7" r="6.25"/>
<circle cx="999.2" cy="260.8" r="6.25"/>
<circle cx="1000.8" cy="249.3" r="6.25"/>
<circle cx="1005.8" cy="243.3" r="6.25"/>
<circle cx="1008.5" cy="243.5" r="6.25"/>
<circle cx="1010.4" cy="243.3" r="6.25"/>
<circle cx="1015.3" cy="237.0" r="6.25"/>
<circle cx="1018.7" cy="237.4" r="6.25"/>
<circle cx="1020.0" cy="234.5" r="6.25"/>
<circle cx="1022.2" cy="232.3" r="6.25"/>
<circle cx="1027.1" cy="220.6" r="6.25"/>
<circle cx="1029.8" cy="222.8" r="6.25"/>
<circle cx="1032.0" cy="212.2" r="6.25"/>
<circle cx="1034.4" cy="212.5" r="6.25"/>
<circle cx="1038.1" cy="201.9" r="6.25"/>
<circle cx="1042.0" cy="210.6" r="6.25"/>
<circle cx="1044.5" cy="201.5" r="6.25"/>
<circle cx="1044.2" cy="203.8" r="6.25"/>
<circle cx="1051.2" cy="197.2" r="6.25"/>
<circle cx="1055.6" cy="197.3" r="6.25"/>
<circle cx="1057.0" cy="196.0" r="6.25"/>
<circle cx="1060.5" cy="189.7" r="6.25"/>
<circle cx="1062.6" cy="183.9" r="6.25"/>
<circle cx="1068.0" cy="187.2" r="6.25"/>
<circle cx="1068.6" cy="180.5" r="6.25"/>
<circle cx="1073.3" cy="179.5" r="6.25"/>
<circle cx="1076.4" cy="176.1" r="6.25"/>
<circle cx="1077.5" cy="171.6" r="6.25"/>
<circle cx="1081.6" cy="174.1" r="6.25"/>
<circle cx="1081.9" cy="178.4" r="6.25"/>
<circle cx="1087.1" cy="170.0" r="6.25"/>
<circle cx="1087.9" cy="170.4" r="6.25"/>
<circle cx="1093.3" cy="176.6" r="6.25"/>
<circle cx="1095.2" cy="173.9" r="6.25"/>
<circle cx="1098.5" cy="175.5" r="6.25"/>
<circle cx="1100.7" cy="175.2" r="6.25"/>
<circle cx="1105.1" cy="166.8" r="6.25"/>
<circle cx="1108.6" cy="168.2" r="6.25"/>
<circle cx="1109.7" cy="173.6" r="6.25"/>
<circle cx="1113.4" cy="174.5" r="6.25"/>
<circle cx="1116.1" cy="179.5" r="6.25"/>
<circle cx="1121.3" cy="175.6" r="6.25"/>
<circle cx="1125.3" cy="187.3" r="6.25"/>
<circle cx="1126.2" cy="179.2" r="6.25"/>
<circle cx="1128.8" cy="185.7" r="6.25"/>
<circle cx="1132.1" cy="176.3" r="6.25"/>
<circle cx="1134.0" cy="182.6" r="6.25"/>
<circle cx="1136.2" cy="175.3" r="6.25"/>
<circle cx="1140.1" cy="185.8" r="6.25"/>
<circle cx="1144.3" cy="183.9" r="6.25"/>
<circle cx="1146.6" cy="188.3" r="6.25"/>
<circle cx="1149.0" cy="189.1" r="6.25"/>
<circle cx="1151.8" cy="187.9" r="6.25"/>
<circle cx="1156.0" cy="197.9" r="6.25"/>
<circle cx="1158.6" cy="194.5" r="6.25"/>
<circle cx="1162.9" cy="200.6" r="6.25"/>
<circle cx="1163.9" cy="199.1" r="6.25"/>
<circle cx="1171.2" cy="208.3" r="6.25"/>
<circle cx="1171.0" cy="218.7" r="6.25"/>
<circle cx="1176.6" cy="222.8" r="6.25"/>
<circle cx="1176.7" cy="224.0" r="6.25"/>
<circle cx="1180.8" cy="234.5" r="6.25"/>
<circle cx="1182.6" cy="236.5" r="6.25"/>
<circle cx="1188.3" cy="248.4" r="6.25"/>
<circle cx="1190.0" cy="250.7" r="6.25"/>
<circle cx="1193.0" cy="245.7" r="6.25"/>
<circle cx="1195.8" cy="257.5" r="6.25"/>
<circle cx="1197.8" cy="265.4" r="6.25"/>
<circle cx="1201.7" cy="261.0" r="6.25"/>
<circle cx="1203.9" cy="271.8" r="6.25"/>
<circle cx="1206.9" cy="279.3" r="6.25"/>
<circle cx="1211.8" cy="280.0" r="6.25"/>
<circle cx="1214.7" cy="297.7" r="6.25"/>
<circle cx="1216.4" cy="311.4" r="6.25"/>
<circle cx="1218.3" cy="303.0" r="6.25"/>
<circle cx="1221.8" cy="312.4" r="6.25"/>
<circle cx="1223.0" cy="324.7" r="6.25"/>
<circle cx="1226.6" cy="331.7" r="6.25"/>
<circle cx="1231.3" cy="336.7" r="6.25"/>
<circle cx="1234.3" cy="339.2" r="6.25"/>
<circle cx="1236.7" cy="341.7" r="6.25"/>
<circle cx="1240.4" cy="340.4" r="6.25"/>
<circle cx="1245.8" cy="358.2" r="6.25"/>
<circle cx="1247.3" cy="361.7" r="6.25"/>
<circle cx="1251.2" cy="359.2" r="6.25"/>
<circle cx="1252.4" cy="367.2" r="6.25"/>
<circle cx="1255.6" cy="371.2" r="6.25"/>
<circle cx="1258.4" cy="372.4" r="6.25"/>
<circle cx="1261.1" cy="371.7" r="6.25"/>
<circle cx="1264.5" cy="387.0" r="6.25"/>
<circle cx="1268.2" cy="378.8" r="6.25"/>
<circle cx="1269.3" cy="383.6" r="6.25"/>
<circle cx="1274.7" cy="380.9" r="6.25"/>
<circle cx="1276.8" cy="383.7" r="6.25"/>
<circle cx="1278.8" cy="389.8" r="6.25"/>
<circle cx="1282.0" cy="385.1" r="6.25"/>
<circle cx="1283.3" cy="392.1" r="6.25"/>
<circle cx="1288.1" cy="384.9" r="6.25"/>
<circle cx="1292.4" cy="391.6" r="6.25"/>
<circle cx="1292.8" cy="395.9" r="6.25"/>
<circle cx="1297.4" cy="395.3" r="6.25"/>
<circle cx="1301.4" cy="390.3" r="6.25"/>
<circle cx="1301.3" cy="390.6" r="6.25"/>
<circle cx="1305.0" cy="394.4" r="6.25"/>
<circle cx="1310.2" cy="393.6" r="6.25"/>
<circle cx="1314.7" cy="398.5" r="6.25"/>
<circle cx="1314.0" cy="396.6" r="6.25"/>
<circle cx="1317.7" cy="394.5" r="6.25"/>
<circle cx="1322.4" cy="392.8" r="6.25"/>
<circle cx="1322.5" cy="395.9" r="6.25"/>
<circle cx="1327.7" cy="402.6" r="6.25"/>
<circle cx="1331.0" cy="401.5" r="6.25"/>
<circle cx="1333.9" cy="402.8" r="6.25"/>
<circle cx="1337.4" cy="405.3" r="6.25"/>
<circle cx="1340.4" cy="401.2" r="6.25"/>
<circle cx="1342.7" cy="392.4" r="6.25"/>
<circle cx="1346.2" cy="397.7" r="6.25"/>
<circle cx="1350.9" cy="392.4" r="6.25"/>
<circle cx="1350.5" cy="398.9" r="6.25"/>
<circle cx="1354.7" cy="390.3" r="6.25"/>
<circle cx="1357.2" cy="397.5" r="6.25"/>
<circle cx="1360.3" cy="398.2" r="6.25"/>
<circle cx="1363.2" cy="400.2" r="6.25"/>
<circle cx="1368.2" cy="397.3" r="6.25"/>
<circle cx="1368.9" cy="409.1" r="6.25"/>
<circle cx="1372.1" cy="395.0" r="6.25"/>
<circle cx="1374.7" cy="400.6" r="6.25"/>
<circle cx="1379.1" cy="394.8" r="6.25"/>
<circle cx="1381.0" cy="392.5" r="6.25"/>
<circle cx="1382.6" cy="394.8" r="6.25"/>
<circle cx="1387.7" cy="390.4" r="6.25"/>
<circle cx="754.0" cy="400.1" r="6.25"/>
<circle cx="760.1" cy="398.7" r="6.25"/>
<circle cx="762.1" cy="403.3" r="6.25"/>
<circle cx="765.9" cy="396.6" r="6.25"/>
<circle cx="766.8" cy="397.9" r="6.25"/>
<circle cx="772.9" cy="396.8" r="6.25"/>
<circle cx="775.6" cy="401.6" r="6.25"/>
<circle cx="778.4" cy="398.6" r="6.25"/>
<circle cx="780.1" cy="398.2" r="6.25"/>
<circle cx="784.2" cy="412.6" r="6.25"/>
<circle cx="786.2" cy="399.0" r="6.25"/>
<circle cx="790.7" cy="403.0" r="6.25"/>
<circle cx="790.2" cy="399.5" r="6.25"/>
<circle cx="795.3" cy="400.6" r="6.25"/>
<circle cx="799.9" cy="402.5" r="6.25"/>
<circle cx="802.3" cy="403.2" r="6.25"/>
<circle cx="805.4" cy="396.5" r="6.25"/>
<circle cx="808.3" cy="410.9" r="6.25"/>
<circle cx="810.6" cy="402.2" r="6.25"/>
<circle cx="812.3" cy="409.0" r="6.25"/>
<circle cx="817.0" cy="400.0" r="6.25"/>
<circle cx="818.9" cy="403.7" r="6.25"/>
<circle cx="822.1" cy="401.4" r="6.25"/>
<circle cx="825.3" cy="400.1" r="6.25"/>
<circle cx="828.4" cy="393.8" r="6.25"/>
<circle cx="830.3" cy="402.6" r="6.25"/>
<circle cx="835.3" cy="397.0" r="6.25"/>
<circle cx="837.7" cy="392.7" r="6.25"/>
<circle cx="841.9" cy="392.2" r="6.25"/>
<circle cx="846.0" cy="407.3" r="6.25"/>
<circle cx="847.4" cy="395.1" r="6.25"/>
<circle cx="849.7" cy="396.0" r="6.25"/>
<circle cx="851.0" cy="401.0" r="6.25"/>
<circle cx="855.5" cy="396.6" r="6.25"/>
<circle cx="858.8" cy="396.4" r="6.25"/>
<circle cx="862.0" cy="386.5" r="6.25"/>
<circle cx="864.7" cy="390.8" r="6.25"/>
<circle cx="867.0" cy="388.6" r="6.25"/>
<circle cx="871.8" cy="376.8" r="6.25"/>
<circle cx="873.9" cy="386.8" r="6.25"/>
<circle cx="877.9" cy="383.0" r="6.25"/>
<circle cx="878.9" cy="379.6" r="6.25"/>
<circle cx="884.2" cy="379.4" r="6.25"/>
<circle cx="887.2" cy="373.3" r="6.25"/>
<circle cx="887.4" cy="374.7" r="6.25"/>
<circle cx="891.7" cy="380.5" r="6.25"/>
<circle cx="894.4" cy="368.5" r="6.25"/>
<circle cx="899.2" cy="375.7" r="6.25"/>
<circle cx="901.3" cy="368.5" r="6.25"/>
<circle cx="903.1" cy="371.3" r="6.25"/>
<circle cx="906.8" cy="368.0" r="6.25"/>
<circle cx="909.3" cy="362.7" r="6.25"/>
<circle cx="912.9" cy="363.3" r="6.25"/>
<circle cx="915.4" cy="357.8" r="6.25"/>
<circle cx="919.2" cy="361.4" r="6.25"/>
<circle cx="923.4" cy="357.4" r="6.25"/>
<circle cx="927.7" cy="353.1" r="6.25"/>
<circle cx="928.9" cy="344.4" r="6.25"/>
<circle cx="933.2" cy="343.3" r="6.25"/>
<circle cx="931.6" cy="348.3" r="6.25"/>
<circle cx="937.8" cy="334.6" r="6.25"/>
<circle cx="940.9" cy="338.5" r="6.25"/>
<circle cx="943.6" cy="331.1" r="6.25"/>
<circle cx="945.9" cy="329.6" r="6.25"/>
<circle cx="946.3" cy="326.6" r="6.25"/>
<circle cx="950.8" cy="320.6" r="6.25"/>
<circle cx="954.8" cy="317.5" r="6.25"/>
<circle cx="958.5" cy="305.7" r="6.25"/>
<circle cx="960.0" cy="301.2" r="6.25"/>
<circle cx="964.1" cy="294.1" r="6.25"/>
<circle cx="968.4" cy="298.0" r="6.25"/>
<circle cx="971.4" cy="291.0" r="6.25"/>
<circle cx="973.0" cy="287.2" r="6.25"/>
<circle cx="977.4" cy="284.9" r="6.25"/>
<circle cx="978.9" cy="276.6" r="6.25"/>
<circle cx="982.3" cy="272.6" r="6.25"/>
<circle cx="986.5" cy="264.9" r="6.25"/>
<circle cx="988.8" cy="262.2" r="6.25"/>
<circle cx="991.7" cy="255.8" r="6.25"/>
<circle cx="993.8" cy="256.1" r="6.25"/>
<circle cx="997.7" cy="258.2" r="6.25"/>
<circle cx="1001.4" cy="252.8" r="6.25"/>
<circle cx="1002.8" cy="238.7" r="6.25"/>
<circle cx="1006.4" cy="238.7" r="6.25"/>
<circle cx="1009.0" cy="233.0" r="6.25"/>
<circle cx="1012.1" cy="223.3" r="6.25"/>
<circle cx="1015.8" cy="219.4" r="6.25"/>
<circle cx="1017.5" cy="223.1" r="6.25"/>
<circle cx="1021.7" cy="222.9" r="6.25"/>
<circle cx="1022.3" cy="215.6" r="6.25"/>
<circle cx="1025.0" cy="212.8" r="6.25"/>
<circle cx="1032.3" cy="208.9" r="6.25"/>
<circle cx="1034.2" cy="204.3" r="6.25"/>
<circle cx="1036.8" cy="198.8" r="6.25"/>
<circle cx="1039.4" cy="198.7" r="6.25"/>
<circle cx="1044.6" cy="198.5" r="6.25"/>
<circle cx="1045.7" cy="193.7" r="6.25"/>
<circle cx="1049.2" cy="185.8" r="6.25"/>
<circle cx="1052.5" cy="185.5" r="6.25"/>
<circle cx="1056.6" cy="183.0" r="6.25"/>
<circle cx="1057.2" cy="172.0" r="6.25"/>
<circle cx="1060.2" cy="180.6" r="6.25"/>
<circle cx="1063.3" cy="171.3" r="6.25"/>
<circle cx="1066.7" cy="166.4" r="6.25"/>
<circle cx="1071.0" cy="179.1" r="6.25"/>
<circle cx="1071.6" cy="162.3" r="6.25"/>
<circle cx="1076.9" cy="163.0" r="6.25"/>
<circle cx="1077.8" cy="160.7" r="6.25"/>
<circle cx="1082.7" cy="166.9" r="6.25"/>
<circle cx="1083.4" cy="161.2" r="6.25"/>
<circle cx="1086.9" cy="155.9" r="6.25"/>
<circle cx="1091.6" cy="152.5" r="6.25"/>
<circle cx="1094.3" cy="158.3" r="6.25"/>
<circle cx="1098.2" cy="167.7" r="6.25"/>
<circle cx="1100.8" cy="155.1" r="6.25"/>
<circle cx="1101.9" cy="163.7" r="6.25"/>
<circle cx="1105.7" cy="154.7" r="6.25"/>
<circle cx="1110.6" cy="153.6" r="6.25"/>
<circle cx="1110.5" cy="152.1" r="6.25"/>
<circle cx="1114.6" cy="162.3" r="6.25"/>
<circle cx="1118.2" cy="165.8" r="6.25"/>
<circle cx="1122.2" cy="165.9" r="6.25"/>
<circle cx="1123.9" cy="158.9" r="6.25"/>
<circle cx="1127.1" cy="165.2" r="6.25"/>
<circle cx="1128.8" cy="169.6" r="6.25"/>
<circle cx="1133.9" cy="166.8" r="6.25"/>
<circle cx="1135.1" cy="171.4" r="6.25"/>
<circle cx="1141.7" cy="179.5" r="6.25"/>
<circle cx="1142.3" cy="166.9" r="6.25"/>
<circle cx="1145.9" cy="184.2" r="6.25"/>
<circle cx="1147.7" cy="176.4" r="6.25"/>
<circle cx="1150.8" cy="174.7" r="6.25"/>
<circle cx="1154.9" cy="178.0" r="6.25"/>
<circle cx="1156.5" cy="182.8" r="6.25"/>
<circle cx="1160.0" cy="183.8" r="6.25"/>
<circle cx="1162.8" cy="189.3" r="6.25"/>
<circle cx="1166.5" cy="201.2" r="6.25"/>
<circle cx="1169.5" cy="204.0" r="6.25"/>
<circle cx="1172.0" cy="207.5" r="6.25"/>
<circle cx="1176.0" cy="211.3" r="6.25"/>
<circle cx="1179.7" cy="213.5" r="6.25"/>
<circle cx="1180.3" cy="222.6" r="6.25"/>
<circle cx="1183.4" cy="225.2" r="6.25"/>
<circle cx="1186.3" cy="236.0" r="6.25"/>
<circle cx="1189.3" cy="247.8" r="6.25"/>
<circle cx="1192.3" cy="238.9" r="6.25"/>
<circle cx="1196.2" cy="244.6" r="6.25"/>
<circle cx="1200.0" cy="261.5" r="6.25"/>
<circle cx="1201.3" cy="258.1" r="6.25"/>
<circle cx="1205.6" cy="277.9" r="6.25"/>
<circle cx="1209.5" cy="278.4" r="6.25"/>
<circle cx="1212.9" cy="296.1" r="6.25"/>
<circle cx="1214.7" cy="294.4" r="6.25"/>
<circle cx="1216.6" cy="303.3" r="6.25"/>
<circle cx="1220.4" cy="303.7" r="6.25"/>
<circle cx="1223.3" cy="311.7" r="6.25"/>
<circle cx="1229.2" cy="323.4" r="6.25"/>
<circle cx="1229.2" cy="325.1" r="6.25"/>
<circle cx="1232.9" cy="333.4" r="6.25"/>
<circle cx="1234.8" cy="342.8" r="6.25"/>
<circle cx="1236.5" cy="338.8" r="6.25"/>
<circle cx="1242.1" cy="341.9" r="6.25"/>
<circle cx="1243.2" cy="350.4" r="6.25"/>
<circle cx="1247.5" cy="354.6" r="6.25"/>
<circle cx="1249.8" cy="363.9" r="6.25"/>
<circle cx="1251.3" cy="366.7" r="6.25"/>
<circle cx="1258.5" cy="366.9" r="6.25"/>
<circle cx="1259.1" cy="364.7" r="6.25"/>
<circle cx="1262.1" cy="376.3" r="6.25"/>
<circle cx="1265.5" cy="374.1" r="6.25"/>
<circle cx="1268.5" cy="379.1" r="6.25"/>
<circle cx="1271.4" cy="372.6" r="6.25"/>
<circle cx="1273.9" cy="377.7" r="6.25"/>
<circle cx="1278.4" cy="383.0" r="6.25"/>
<circle cx="1280.0" cy="386.6" r="6.25"/>
<circle cx="1285.0" cy="388.1" r="6.25"/>
<circle cx="1288.3" cy="390.4" r="6.25"/>
<circle cx="1289.5" cy="386.8" r="6.25"/>
<circle cx="1291.0" cy="392.1" r="6.25"/>
<circle cx="1295.1" cy="391.3" r="6.25"/>
<circle cx="1296.6" cy="390.2" r="6.25"/>
<circle cx="1301.7" cy="389.4" r="6.25"/>
<circle cx="1305.9" cy="399.2" r="6.25"/>
<circle cx="1307.5" cy="395.7" r="6.25"/>
<circle cx="1311.3" cy="392.7" r="6.25"/>
<circle cx="1314.5" cy="395.9" r="6.25"/>
<circle cx="1316.8" cy="405.6" r="6.25"/>
<circle cx="1318.8" cy="391.1" r="6.25"/>
<circle cx="1321.4" cy="391.8" r="6.25"/>
<circle cx="1326.1" cy="405.0" r="6.25"/>
<circle cx="1329.6" cy="392.4" r="6.25"/>
<circle cx="1331.4" cy="405.7" r="6.25"/>
<circle cx="1334.5" cy="396.6" r="6.25"/>
<circle cx="1338.7" cy="400.8" r="6.25"/>
<circle cx="1342.4" cy="404.6" r="6.25"/>
<circle cx="1345.6" cy="404.4" r="6.25"/>
<circle cx="1345.1" cy="401.7" r="6.25"/>
<circle cx="1350.3" cy="397.8" r="6.25"/>
<circle cx="1354.1" cy="396.4" r="6.25"/>
<circle cx="1354.9" cy="396.3" r="6.25"/>
<circle cx="1359.8" cy="404.4" r="6.25"/>
<circle cx="1363.1" cy="398.6" r="6.25"/>
<circle cx="1365.4" cy="402.3" r="6.25"/>
<circle cx="1367.2" cy="385.9" r="6.25"/>
<circle cx="1369.9" cy="395.0" r="6.25"/>
<circle cx="1375.5" cy="397.8" r="6.25"/>
<circle cx="1375.7" cy="394.6" r="6.25"/>
<circle cx="1379.6" cy="406.1" r="6.25"/>
<circle cx="1383.4" cy="391.1" r="6.25"/>
<circle cx="1385.3" cy="398.8" r="6.25"/>
<circle cx="756.0" cy="409.7" r="6.25"/>
<circle cx="758.5" cy="410.9" r="6.25"/>
<circle cx="761.0" cy="412.8" r="6.25"/>
<circle cx="763.5" cy="407.8" r="6.25"/>
<circle cx="765.9" cy="412.8" r="6.25"/>
<circle cx="768.4" cy="411.0" r="6.25"/>
<circle cx="770.9" cy="411.8" r="6.25"/>
<circle cx="773.4" cy="410.8" r="6.25"/>
<circle cx="775.9" cy="412.2" r="6.25"/>
<circle cx="778.4" cy="409.0" r="6.25"/>
<circle cx="780.9" cy="411.2" r="6.25"/>
<circle cx="783.4" cy="408.6" r="6.25"/>
<circle cx="785.8" cy="410.1" r="6.25"/>
<circle cx="788.3" cy="411.1" r="6.25"/>
<circle cx="790.8" cy="408.2" r="6.25"/>
<circle cx="793.3" cy="407.4" r="6.25"/>
<circle cx="795.8" cy="411.7" r="6.25"/>
<circle cx="798.3" cy="411.9" r="6.25"/>
<circle cx="800.8" cy="411.0" r="6.25"/>
<circle cx="803.3" cy="408.9" r="6.25"/>
<circle cx="805.7" cy="410.9" r="6.25"/>
<circle cx="808.2" cy="407.5" r="6.25"/>
<circle cx="810.7" cy="411.0" r="6.25"/>
<circle cx="813.2" cy="410.5" r="6.25"/>
<circle cx="815.7" cy="410.7" r="6.25"/>
<circle cx="818.2" cy="409.7" r="6.25"/>
<circle cx="820.7" cy="408.4" r="6.25"/>
<circle cx="823.2" cy="411.4" r="6.25"/>
<circle cx="825.6" cy="409.8" r="6.25"/>
<circle cx="828.1" cy="411.5" r="6.25"/>
<circle cx="830.6" cy="409.2" r="6.25"/>
<circle cx="833.1" cy="407.5" r="6.25"/>
<circle cx="835.6" cy="410.3" r="6.25"/>
<circle cx="838.1" cy="410.7" r="6.25"/>
<circle cx="840.6" cy="412.5" r="6.25"/>
<circle cx="843.1" cy="412.3" r="6.25"/>
<circle cx="845.5" cy="407.3" r="6.25"/>
<circle cx="848.0" cy="411.6" r="6.25"/>
<circle cx="850.5" cy="408.6" r="6.25"/>
<circle cx="853.0" cy="411.2" r="6.25"/>
<circle cx="1298.0" cy="409.3" r="6.25"/>
<circle cx="1300.3" cy="408.9" r="6.25"/>
<circle cx="1302.5" cy="409.9" r="6.25"/>
<circle cx="1304.8" cy="410.2" r="6.25"/>
<circle cx="1307.0" cy="411.2" r="6.25"/>
<circle cx="1309.3" cy="410.8" r="6.25"/>
<circle cx="1311.5" cy="411.1" r="6.25"/>
<circle cx="1313.8" cy="409.3" r="6.25"/>
<circle cx="1316.1" cy="411.1" r="6.25"/>
<circle cx="1318.3" cy="409.1" r="6.25"/>
<circle cx="1320.6" cy="410.6" r="6.25"/>
<circle cx="1322.8" cy="409.8" r="6.25"/>
<circle cx="1325.1" cy="410.4" r="6.25"/>
<circle cx="1327.3" cy="407.1" r="6.25"/>
<circle cx="1329.6" cy="410.0" r="6.25"/>
<circle cx="1331.8" cy="408.3" r="6.25"/>
<circle cx="1334.1" cy="409.3" r="6.25"/>
<circle cx="1336.4" cy="407.4" r="6.25"/>
<circle cx="1338.6" cy="410.9" r="6.25"/>
<circle cx="1340.9" cy="412.4" r="6.25"/>
<circle cx="1343.1" cy="409.1" r="6.25"/>
<circle cx="1345.4" cy="407.6" r="6.25"/>
<circle cx="1347.6" cy="410.7" r="6.25"/>
<circle cx="1349.9" cy="407.8" r="6.25"/>
<circle cx="1352.2" cy="412.3" r="6.25"/>
<circle cx="1354.4" cy="407.7" r="6.25"/>
<circle cx="1356.7" cy="409.2" r="6.25"/>
<circle cx="1358.9" cy="410.0" r="6.25"/>
<circle cx="1361.2" cy="407.7" r="6.25"/>
<circle cx="1363.4" cy="408.9" r="6.25"/>
<circle cx="1365.7" cy="408.7" r="6.25"/>
<circle cx="1367.9" cy="411.3" r="6.25"/>
<circle cx="1370.2" cy="412.9" r="6.25"/>
<circle cx="1372.5" cy="409.2" r="6.25"/>
<circle cx="1374.7" cy="411.7" r="6.25"/>
<circle cx="1377.0" cy="407.8" r="6.25"/>
<circle cx="1379.2" cy="410.5" r="6.25"/>
<circle cx="1381.5" cy="409.6" r="6.25"/>
<circle cx="1383.7" cy="408.7" r="6.25"/>
<circle cx="1386.0" cy="411.9" r="6.25"/>
<circle cx="836.8" cy="382.3" r="6.3"/>
</g>
<g clip-path="url(#cr)" fill="none" stroke="#e01a1c" stroke-width="3.2">
<rect x="751.9" y="417.5" width="11" height="11"/>
<rect x="754.2" y="412.2" width="11" height="11"/>
<rect x="756.5" y="415.6" width="11" height="11"/>
<rect x="759.8" y="412.3" width="11" height="11"/>
<rect x="765.3" y="418.5" width="11" height="11"/>
<rect x="766.0" y="425.9" width="11" height="11"/>
<rect x="771.9" y="415.3" width="11" height="11"/>
<rect x="773.4" y="417.3" width="11" height="11"/>
<rect x="776.4" y="425.1" width="11" height="11"/>
<rect x="778.3" y="413.8" width="11" height="11"/>
<rect x="783.2" y="419.9" width="11" height="11"/>
<rect x="784.7" y="413.2" width="11" height="11"/>
<rect x="789.6" y="420.9" width="11" height="11"/>
<rect x="792.7" y="416.4" width="11" height="11"/>
<rect x="792.8" y="421.3" width="11" height="11"/>
<rect x="798.5" y="417.9" width="11" height="11"/>
<rect x="798.4" y="417.0" width="11" height="11"/>
<rect x="804.9" y="418.3" width="11" height="11"/>
<rect x="804.4" y="425.9" width="11" height="11"/>
<rect x="808.7" y="430.1" width="11" height="11"/>
<rect x="814.5" y="423.6" width="11" height="11"/>
<rect x="816.2" y="423.8" width="11" height="11"/>
<rect x="819.8" y="415.4" width="11" height="11"/>
<rect x="819.0" y="417.3" width="11" height="11"/>
<rect x="825.9" y="431.5" width="11" height="11"/>
<rect x="827.0" y="427.6" width="11" height="11"/>
<rect x="833.0" y="426.3" width="11" height="11"/>
<rect x="834.1" y="426.8" width="11" height="11"/>
<rect x="836.9" y="415.9" width="11" height="11"/>
<rect x="838.1" y="412.0" width="11" height="11"/>
<rect x="842.0" y="421.3" width="11" height="11"/>
<rect x="846.1" y="421.0" width="11" height="11"/>
<rect x="850.8" y="430.3" width="11" height="11"/>
<rect x="853.7" y="423.3" width="11" height="11"/>
<rect x="854.8" y="421.2" width="11" height="11"/>
<rect x="856.8" y="428.9" width="11" height="11"/>
<rect x="859.7" y="425.0" width="11" height="11"/>
<rect x="866.2" y="427.4" width="11" height="11"/>
<rect x="867.6" y="424.8" width="11" height="11"/>
<rect x="868.9" y="425.1" width="11" height="11"/>
<rect x="875.1" y="424.7" width="11" height="11"/>
<rect x="876.9" y="440.0" width="11" height="11"/>
<rect x="880.2" y="428.8" width="11" height="11"/>
<rect x="883.3" y="431.4" width="11" height="11"/>
<rect x="885.7" y="435.0" width="11" height="11"/>
<rect x="887.7" y="437.3" width="11" height="11"/>
<rect x="889.3" y="434.3" width="11" height="11"/>
<rect x="892.7" y="435.3" width="11" height="11"/>
<rect x="896.3" y="437.5" width="11" height="11"/>
<rect x="901.0" y="439.6" width="11" height="11"/>
<rect x="902.5" y="434.6" width="11" height="11"/>
<rect x="907.4" y="437.7" width="11" height="11"/>
<rect x="910.5" y="449.8" width="11" height="11"/>
<rect x="914.3" y="443.0" width="11" height="11"/>
<rect x="917.3" y="439.8" width="11" height="11"/>
<rect x="915.2" y="444.7" width="11" height="11"/>
<rect x="923.4" y="459.4" width="11" height="11"/>
<rect x="924.8" y="446.2" width="11" height="11"/>
<rect x="927.7" y="450.9" width="11" height="11"/>
<rect x="929.8" y="447.3" width="11" height="11"/>
<rect x="933.9" y="456.5" width="11" height="11"/>
<rect x="936.7" y="460.9" width="11" height="11"/>
<rect x="938.8" y="466.7" width="11" height="11"/>
<rect x="940.3" y="459.6" width="11" height="11"/>
<rect x="947.3" y="454.8" width="11" height="11"/>
<rect x="949.3" y="457.3" width="11" height="11"/>
<rect x="950.4" y="462.0" width="11" height="11"/>
<rect x="954.1" y="462.1" width="11" height="11"/>
<rect x="958.6" y="462.8" width="11" height="11"/>
<rect x="960.0" y="470.4" width="11" height="11"/>
<rect x="964.1" y="467.7" width="11" height="11"/>
<rect x="968.0" y="474.6" width="11" height="11"/>
<rect x="970.8" y="489.6" width="11" height="11"/>
<rect x="972.6" y="482.9" width="11" height="11"/>
<rect x="974.7" y="483.6" width="11" height="11"/>
<rect x="978.3" y="487.0" width="11" height="11"/>
<rect x="982.7" y="493.3" width="11" height="11"/>
<rect x="984.6" y="497.7" width="11" height="11"/>
<rect x="989.8" y="498.7" width="11" height="11"/>
<rect x="993.0" y="509.9" width="11" height="11"/>
<rect x="995.7" y="515.4" width="11" height="11"/>
<rect x="997.8" y="515.5" width="11" height="11"/>
<rect x="998.4" y="531.0" width="11" height="11"/>
<rect x="1005.0" y="528.5" width="11" height="11"/>
<rect x="1006.9" y="529.1" width="11" height="11"/>
<rect x="1008.2" y="536.1" width="11" height="11"/>
<rect x="1010.9" y="534.9" width="11" height="11"/>
<rect x="1014.2" y="532.5" width="11" height="11"/>
<rect x="1018.2" y="536.7" width="11" height="11"/>
<rect x="1019.3" y="541.2" width="11" height="11"/>
<rect x="1025.5" y="549.5" width="11" height="11"/>
<rect x="1026.6" y="547.0" width="11" height="11"/>
<rect x="1030.7" y="546.6" width="11" height="11"/>
<rect x="1031.0" y="551.6" width="11" height="11"/>
<rect x="1039.7" y="555.8" width="11" height="11"/>
<rect x="1040.3" y="548.1" width="11" height="11"/>
<rect x="1042.0" y="559.8" width="11" height="11"/>
<rect x="1043.7" y="566.4" width="11" height="11"/>
<rect x="1049.9" y="563.9" width="11" height="11"/>
<rect x="1050.6" y="564.8" width="11" height="11"/>
<rect x="1053.6" y="568.5" width="11" height="11"/>
<rect x="1056.1" y="576.6" width="11" height="11"/>
<rect x="1058.7" y="575.7" width="11" height="11"/>
<rect x="1063.1" y="576.8" width="11" height="11"/>
<rect x="1066.2" y="565.3" width="11" height="11"/>
<rect x="1068.7" y="573.4" width="11" height="11"/>
<rect x="1070.9" y="586.4" width="11" height="11"/>
<rect x="1077.1" y="578.2" width="11" height="11"/>
<rect x="1080.2" y="585.5" width="11" height="11"/>
<rect x="1080.2" y="588.8" width="11" height="11"/>
<rect x="1085.8" y="589.7" width="11" height="11"/>
<rect x="1087.3" y="595.2" width="11" height="11"/>
<rect x="1090.2" y="591.1" width="11" height="11"/>
<rect x="1095.7" y="588.2" width="11" height="11"/>
<rect x="1095.0" y="590.2" width="11" height="11"/>
<rect x="1100.3" y="587.8" width="11" height="11"/>
<rect x="1102.2" y="591.9" width="11" height="11"/>
<rect x="1105.4" y="585.8" width="11" height="11"/>
<rect x="1106.8" y="580.8" width="11" height="11"/>
<rect x="1110.9" y="590.2" width="11" height="11"/>
<rect x="1116.0" y="587.7" width="11" height="11"/>
<rect x="1117.5" y="588.0" width="11" height="11"/>
<rect x="1121.3" y="593.2" width="11" height="11"/>
<rect x="1124.4" y="581.7" width="11" height="11"/>
<rect x="1125.5" y="583.7" width="11" height="11"/>
<rect x="1129.3" y="581.1" width="11" height="11"/>
<rect x="1132.3" y="571.5" width="11" height="11"/>
<rect x="1135.0" y="577.1" width="11" height="11"/>
<rect x="1138.1" y="569.4" width="11" height="11"/>
<rect x="1141.7" y="574.0" width="11" height="11"/>
<rect x="1145.4" y="567.5" width="11" height="11"/>
<rect x="1147.3" y="565.1" width="11" height="11"/>
<rect x="1149.8" y="573.5" width="11" height="11"/>
<rect x="1155.0" y="564.6" width="11" height="11"/>
<rect x="1156.3" y="563.7" width="11" height="11"/>
<rect x="1161.0" y="564.7" width="11" height="11"/>
<rect x="1161.7" y="553.3" width="11" height="11"/>
<rect x="1164.4" y="556.7" width="11" height="11"/>
<rect x="1167.7" y="553.8" width="11" height="11"/>
<rect x="1170.6" y="555.1" width="11" height="11"/>
<rect x="1175.2" y="550.8" width="11" height="11"/>
<rect x="1177.9" y="543.8" width="11" height="11"/>
<rect x="1181.2" y="550.1" width="11" height="11"/>
<rect x="1183.7" y="537.4" width="11" height="11"/>
<rect x="1187.1" y="532.9" width="11" height="11"/>
<rect x="1188.8" y="536.9" width="11" height="11"/>
<rect x="1194.2" y="529.1" width="11" height="11"/>
<rect x="1196.1" y="524.6" width="11" height="11"/>
<rect x="1197.9" y="519.2" width="11" height="11"/>
<rect x="1204.5" y="518.0" width="11" height="11"/>
<rect x="1204.3" y="515.2" width="11" height="11"/>
<rect x="1207.7" y="511.4" width="11" height="11"/>
<rect x="1211.1" y="513.0" width="11" height="11"/>
<rect x="1214.2" y="506.4" width="11" height="11"/>
<rect x="1217.3" y="489.7" width="11" height="11"/>
<rect x="1218.2" y="479.4" width="11" height="11"/>
<rect x="1222.9" y="471.3" width="11" height="11"/>
<rect x="1223.4" y="465.6" width="11" height="11"/>
<rect x="1228.5" y="465.0" width="11" height="11"/>
<rect x="1231.7" y="455.2" width="11" height="11"/>
<rect x="1235.5" y="451.6" width="11" height="11"/>
<rect x="1236.9" y="442.6" width="11" height="11"/>
<rect x="1241.2" y="443.9" width="11" height="11"/>
<rect x="1243.4" y="438.3" width="11" height="11"/>
<rect x="1247.0" y="435.2" width="11" height="11"/>
<rect x="1248.8" y="442.0" width="11" height="11"/>
<rect x="1254.1" y="442.2" width="11" height="11"/>
<rect x="1257.1" y="433.0" width="11" height="11"/>
<rect x="1257.1" y="427.9" width="11" height="11"/>
<rect x="1261.7" y="427.5" width="11" height="11"/>
<rect x="1264.6" y="430.3" width="11" height="11"/>
<rect x="1265.6" y="430.9" width="11" height="11"/>
<rect x="1269.5" y="431.5" width="11" height="11"/>
<rect x="1273.7" y="426.3" width="11" height="11"/>
<rect x="1275.6" y="423.7" width="11" height="11"/>
<rect x="1280.2" y="423.7" width="11" height="11"/>
<rect x="1283.9" y="429.5" width="11" height="11"/>
<rect x="1285.3" y="422.7" width="11" height="11"/>
<rect x="1289.8" y="422.6" width="11" height="11"/>
<rect x="1293.8" y="417.7" width="11" height="11"/>
<rect x="1294.4" y="423.5" width="11" height="11"/>
<rect x="1299.6" y="426.3" width="11" height="11"/>
<rect x="1302.6" y="425.9" width="11" height="11"/>
<rect x="1305.8" y="424.7" width="11" height="11"/>
<rect x="1307.3" y="428.7" width="11" height="11"/>
<rect x="1310.6" y="429.1" width="11" height="11"/>
<rect x="1312.3" y="423.4" width="11" height="11"/>
<rect x="1317.4" y="422.0" width="11" height="11"/>
<rect x="1320.2" y="418.1" width="11" height="11"/>
<rect x="1322.8" y="424.8" width="11" height="11"/>
<rect x="1325.3" y="414.8" width="11" height="11"/>
<rect x="1327.6" y="426.3" width="11" height="11"/>
<rect x="1328.6" y="424.2" width="11" height="11"/>
<rect x="1333.7" y="426.7" width="11" height="11"/>
<rect x="1335.3" y="427.6" width="11" height="11"/>
<rect x="1340.3" y="427.0" width="11" height="11"/>
<rect x="1342.4" y="427.6" width="11" height="11"/>
<rect x="1349.3" y="422.1" width="11" height="11"/>
<rect x="1348.7" y="421.4" width="11" height="11"/>
<rect x="1351.4" y="423.8" width="11" height="11"/>
<rect x="1357.7" y="429.8" width="11" height="11"/>
<rect x="1356.6" y="422.4" width="11" height="11"/>
<rect x="1363.0" y="430.0" width="11" height="11"/>
<rect x="1366.0" y="428.8" width="11" height="11"/>
<rect x="1367.5" y="422.2" width="11" height="11"/>
<rect x="1369.0" y="420.1" width="11" height="11"/>
<rect x="1372.9" y="429.6" width="11" height="11"/>
<rect x="1376.8" y="434.8" width="11" height="11"/>
<rect x="1380.7" y="423.1" width="11" height="11"/>
<rect x="1383.3" y="432.9" width="11" height="11"/>
<rect x="754.7" y="418.6" width="11" height="11"/>
<rect x="755.1" y="415.3" width="11" height="11"/>
<rect x="759.2" y="421.5" width="11" height="11"/>
<rect x="761.6" y="413.1" width="11" height="11"/>
<rect x="765.4" y="414.7" width="11" height="11"/>
<rect x="769.5" y="418.3" width="11" height="11"/>
<rect x="769.2" y="420.8" width="11" height="11"/>
<rect x="775.2" y="419.7" width="11" height="11"/>
<rect x="778.4" y="420.1" width="11" height="11"/>
<rect x="779.0" y="416.2" width="11" height="11"/>
<rect x="781.9" y="422.2" width="11" height="11"/>
<rect x="787.4" y="410.0" width="11" height="11"/>
<rect x="788.8" y="415.9" width="11" height="11"/>
<rect x="790.6" y="413.3" width="11" height="11"/>
<rect x="794.8" y="414.4" width="11" height="11"/>
<rect x="795.5" y="420.7" width="11" height="11"/>
<rect x="799.8" y="422.3" width="11" height="11"/>
<rect x="805.1" y="415.2" width="11" height="11"/>
<rect x="805.4" y="419.3" width="11" height="11"/>
<rect x="809.2" y="427.1" width="11" height="11"/>
<rect x="813.5" y="420.8" width="11" height="11"/>
<rect x="815.8" y="425.6" width="11" height="11"/>
<rect x="818.4" y="424.1" width="11" height="11"/>
<rect x="821.4" y="424.7" width="11" height="11"/>
<rect x="827.6" y="418.8" width="11" height="11"/>
<rect x="828.5" y="421.7" width="11" height="11"/>
<rect x="831.8" y="429.5" width="11" height="11"/>
<rect x="835.3" y="417.4" width="11" height="11"/>
<rect x="838.8" y="416.0" width="11" height="11"/>
<rect x="839.7" y="425.7" width="11" height="11"/>
<rect x="843.6" y="418.5" width="11" height="11"/>
<rect x="845.3" y="422.0" width="11" height="11"/>
<rect x="847.0" y="425.1" width="11" height="11"/>
<rect x="852.0" y="422.0" width="11" height="11"/>
<rect x="855.9" y="423.6" width="11" height="11"/>
<rect x="859.2" y="420.7" width="11" height="11"/>
<rect x="860.7" y="425.8" width="11" height="11"/>
<rect x="863.1" y="422.0" width="11" height="11"/>
<rect x="866.4" y="429.8" width="11" height="11"/>
<rect x="871.8" y="429.6" width="11" height="11"/>
<rect x="875.5" y="434.3" width="11" height="11"/>
<rect x="875.3" y="430.1" width="11" height="11"/>
<rect x="880.0" y="436.5" width="11" height="11"/>
<rect x="882.6" y="438.0" width="11" height="11"/>
<rect x="886.7" y="439.4" width="11" height="11"/>
<rect x="889.3" y="438.7" width="11" height="11"/>
<rect x="891.9" y="438.5" width="11" height="11"/>
<rect x="895.9" y="438.9" width="11" height="11"/>
<rect x="899.8" y="437.1" width="11" height="11"/>
<rect x="901.9" y="439.9" width="11" height="11"/>
<rect x="903.4" y="441.1" width="11" height="11"/>
<rect x="906.4" y="450.9" width="11" height="11"/>
<rect x="908.9" y="439.2" width="11" height="11"/>
<rect x="915.4" y="444.6" width="11" height="11"/>
<rect x="916.9" y="448.2" width="11" height="11"/>
<rect x="919.2" y="444.9" width="11" height="11"/>
<rect x="924.0" y="453.2" width="11" height="11"/>
<rect x="925.5" y="449.3" width="11" height="11"/>
<rect x="926.6" y="454.8" width="11" height="11"/>
<rect x="930.5" y="455.0" width="11" height="11"/>
<rect x="934.6" y="447.4" width="11" height="11"/>
<rect x="936.4" y="460.3" width="11" height="11"/>
<rect x="941.7" y="454.1" width="11" height="11"/>
<rect x="944.1" y="461.8" width="11" height="11"/>
<rect x="945.3" y="467.7" width="11" height="11"/>
<rect x="948.6" y="466.6" width="11" height="11"/>
<rect x="951.8" y="464.4" width="11" height="11"/>
<rect x="956.3" y="466.0" width="11" height="11"/>
<rect x="957.8" y="467.8" width="11" height="11"/>
<rect x="961.4" y="469.5" width="11" height="11"/>
<rect x="963.4" y="470.8" width="11" height="11"/>
<rect x="966.3" y="478.1" width="11" height="11"/>
<rect x="969.3" y="482.0" width="11" height="11"/>
<rect x="974.6" y="494.7" width="11" height="11"/>
<rect x="976.0" y="492.7" width="11" height="11"/>
<rect x="979.5" y="503.9" width="11" height="11"/>
<rect x="982.5" y="499.0" width="11" height="11"/>
<rect x="986.8" y="505.1" width="11" height="11"/>
<rect x="990.6" y="508.4" width="11" height="11"/>
<rect x="992.0" y="509.4" width="11" height="11"/>
<rect x="996.3" y="513.5" width="11" height="11"/>
<rect x="997.1" y="520.7" width="11" height="11"/>
<rect x="1001.7" y="529.5" width="11" height="11"/>
<rect x="1002.8" y="525.2" width="11" height="11"/>
<rect x="1006.4" y="527.8" width="11" height="11"/>
<rect x="1008.8" y="536.7" width="11" height="11"/>
<rect x="1011.8" y="536.7" width="11" height="11"/>
<rect x="1015.9" y="538.6" width="11" height="11"/>
<rect x="1015.9" y="549.8" width="11" height="11"/>
<rect x="1020.8" y="545.4" width="11" height="11"/>
<rect x="1023.2" y="550.0" width="11" height="11"/>
<rect x="1026.1" y="550.3" width="11" height="11"/>
<rect x="1030.4" y="556.7" width="11" height="11"/>
<rect x="1033.8" y="556.4" width="11" height="11"/>
<rect x="1034.5" y="559.1" width="11" height="11"/>
<rect x="1039.7" y="565.5" width="11" height="11"/>
<rect x="1043.6" y="565.3" width="11" height="11"/>
<rect x="1044.1" y="573.3" width="11" height="11"/>
<rect x="1050.3" y="567.9" width="11" height="11"/>
<rect x="1050.5" y="579.2" width="11" height="11"/>
<rect x="1053.7" y="571.4" width="11" height="11"/>
<rect x="1055.6" y="576.3" width="11" height="11"/>
<rect x="1058.9" y="580.4" width="11" height="11"/>
<rect x="1064.6" y="577.5" width="11" height="11"/>
<rect x="1066.4" y="581.6" width="11" height="11"/>
<rect x="1070.5" y="588.9" width="11" height="11"/>
<rect x="1072.6" y="587.4" width="11" height="11"/>
<rect x="1077.6" y="588.1" width="11" height="11"/>
<rect x="1077.2" y="596.6" width="11" height="11"/>
<rect x="1082.4" y="596.6" width="11" height="11"/>
<rect x="1086.8" y="601.1" width="11" height="11"/>
<rect x="1086.9" y="605.8" width="11" height="11"/>
<rect x="1089.1" y="599.6" width="11" height="11"/>
<rect x="1093.8" y="600.5" width="11" height="11"/>
<rect x="1096.8" y="609.9" width="11" height="11"/>
<rect x="1098.8" y="590.4" width="11" height="11"/>
<rect x="1101.2" y="598.6" width="11" height="11"/>
<rect x="1105.2" y="593.9" width="11" height="11"/>
<rect x="1108.5" y="597.9" width="11" height="11"/>
<rect x="1112.7" y="592.1" width="11" height="11"/>
<rect x="1114.1" y="592.7" width="11" height="11"/>
<rect x="1116.8" y="588.5" width="11" height="11"/>
<rect x="1118.8" y="595.6" width="11" height="11"/>
<rect x="1124.6" y="591.4" width="11" height="11"/>
<rect x="1127.1" y="588.9" width="11" height="11"/>
<rect x="1131.4" y="584.7" width="11" height="11"/>
<rect x="1133.1" y="592.3" width="11" height="11"/>
<rect x="1134.6" y="579.4" width="11" height="11"/>
<rect x="1140.9" y="588.2" width="11" height="11"/>
<rect x="1143.4" y="583.3" width="11" height="11"/>
<rect x="1144.6" y="577.5" width="11" height="11"/>
<rect x="1148.4" y="577.8" width="11" height="11"/>
<rect x="1152.0" y="569.7" width="11" height="11"/>
<rect x="1152.5" y="579.6" width="11" height="11"/>
<rect x="1157.3" y="567.4" width="11" height="11"/>
<rect x="1157.1" y="568.7" width="11" height="11"/>
<rect x="1163.1" y="573.0" width="11" height="11"/>
<rect x="1168.5" y="566.0" width="11" height="11"/>
<rect x="1168.1" y="564.8" width="11" height="11"/>
<rect x="1170.8" y="561.0" width="11" height="11"/>
<rect x="1175.5" y="553.8" width="11" height="11"/>
<rect x="1177.5" y="551.0" width="11" height="11"/>
<rect x="1182.1" y="556.2" width="11" height="11"/>
<rect x="1184.7" y="549.3" width="11" height="11"/>
<rect x="1188.8" y="544.5" width="11" height="11"/>
<rect x="1192.3" y="538.9" width="11" height="11"/>
<rect x="1192.8" y="531.7" width="11" height="11"/>
<rect x="1195.7" y="526.5" width="11" height="11"/>
<rect x="1200.9" y="530.6" width="11" height="11"/>
<rect x="1202.1" y="522.5" width="11" height="11"/>
<rect x="1204.3" y="520.3" width="11" height="11"/>
<rect x="1208.2" y="513.5" width="11" height="11"/>
<rect x="1211.3" y="507.9" width="11" height="11"/>
<rect x="1213.4" y="501.1" width="11" height="11"/>
<rect x="1215.6" y="481.9" width="11" height="11"/>
<rect x="1218.6" y="487.0" width="11" height="11"/>
<rect x="1224.0" y="480.3" width="11" height="11"/>
<rect x="1224.9" y="467.1" width="11" height="11"/>
<rect x="1231.3" y="467.5" width="11" height="11"/>
<rect x="1231.9" y="454.8" width="11" height="11"/>
<rect x="1235.7" y="458.0" width="11" height="11"/>
<rect x="1237.6" y="456.7" width="11" height="11"/>
<rect x="1239.8" y="445.7" width="11" height="11"/>
<rect x="1243.5" y="449.1" width="11" height="11"/>
<rect x="1247.2" y="430.6" width="11" height="11"/>
<rect x="1252.7" y="437.6" width="11" height="11"/>
<rect x="1253.4" y="435.5" width="11" height="11"/>
<rect x="1258.3" y="437.9" width="11" height="11"/>
<rect x="1260.7" y="434.1" width="11" height="11"/>
<rect x="1262.1" y="435.3" width="11" height="11"/>
<rect x="1265.5" y="432.4" width="11" height="11"/>
<rect x="1269.9" y="427.3" width="11" height="11"/>
<rect x="1272.9" y="424.5" width="11" height="11"/>
<rect x="1274.4" y="433.2" width="11" height="11"/>
<rect x="1277.2" y="425.7" width="11" height="11"/>
<rect x="1281.4" y="430.0" width="11" height="11"/>
<rect x="1284.7" y="428.6" width="11" height="11"/>
<rect x="1286.8" y="424.8" width="11" height="11"/>
<rect x="1290.5" y="420.3" width="11" height="11"/>
<rect x="1292.1" y="426.7" width="11" height="11"/>
<rect x="1296.4" y="430.3" width="11" height="11"/>
<rect x="1298.6" y="414.0" width="11" height="11"/>
<rect x="1302.9" y="419.0" width="11" height="11"/>
<rect x="1304.0" y="434.3" width="11" height="11"/>
<rect x="1307.3" y="424.2" width="11" height="11"/>
<rect x="1311.4" y="424.9" width="11" height="11"/>
<rect x="1312.5" y="428.4" width="11" height="11"/>
<rect x="1315.6" y="429.7" width="11" height="11"/>
<rect x="1321.1" y="424.6" width="11" height="11"/>
<rect x="1321.6" y="426.5" width="11" height="11"/>
<rect x="1325.2" y="421.0" width="11" height="11"/>
<rect x="1330.1" y="423.7" width="11" height="11"/>
<rect x="1332.3" y="418.9" width="11" height="11"/>
<rect x="1335.4" y="426.7" width="11" height="11"/>
<rect x="1339.6" y="426.2" width="11" height="11"/>
<rect x="1341.8" y="426.5" width="11" height="11"/>
<rect x="1346.0" y="426.9" width="11" height="11"/>
<rect x="1348.4" y="417.2" width="11" height="11"/>
<rect x="1349.5" y="424.0" width="11" height="11"/>
<rect x="1350.6" y="421.3" width="11" height="11"/>
<rect x="1355.0" y="423.8" width="11" height="11"/>
<rect x="1357.1" y="427.5" width="11" height="11"/>
<rect x="1362.2" y="431.4" width="11" height="11"/>
<rect x="1364.1" y="424.8" width="11" height="11"/>
<rect x="1366.6" y="422.8" width="11" height="11"/>
<rect x="1371.0" y="423.8" width="11" height="11"/>
<rect x="1372.3" y="425.3" width="11" height="11"/>
<rect x="1375.9" y="424.9" width="11" height="11"/>
<rect x="1382.2" y="426.6" width="11" height="11"/>
<rect x="1382.6" y="428.5" width="11" height="11"/>
<rect x="749.9" y="411.3" width="11" height="11"/>
<rect x="754.0" y="420.0" width="11" height="11"/>
<rect x="757.2" y="417.5" width="11" height="11"/>
<rect x="762.7" y="417.8" width="11" height="11"/>
<rect x="763.6" y="414.8" width="11" height="11"/>
<rect x="768.1" y="414.5" width="11" height="11"/>
<rect x="768.7" y="413.7" width="11" height="11"/>
<rect x="771.4" y="412.4" width="11" height="11"/>
<rect x="779.1" y="420.0" width="11" height="11"/>
<rect x="780.2" y="414.3" width="11" height="11"/>
<rect x="780.8" y="419.4" width="11" height="11"/>
<rect x="784.8" y="417.4" width="11" height="11"/>
<rect x="790.4" y="415.9" width="11" height="11"/>
<rect x="791.6" y="411.2" width="11" height="11"/>
<rect x="793.5" y="420.3" width="11" height="11"/>
<rect x="798.2" y="419.7" width="11" height="11"/>
<rect x="800.7" y="419.9" width="11" height="11"/>
<rect x="800.8" y="422.2" width="11" height="11"/>
<rect x="808.9" y="425.4" width="11" height="11"/>
<rect x="810.4" y="423.6" width="11" height="11"/>
<rect x="812.1" y="414.1" width="11" height="11"/>
<rect x="814.5" y="416.7" width="11" height="11"/>
<rect x="817.3" y="423.9" width="11" height="11"/>
<rect x="819.0" y="419.6" width="11" height="11"/>
<rect x="824.4" y="419.6" width="11" height="11"/>
<rect x="826.4" y="417.6" width="11" height="11"/>
<rect x="828.9" y="428.1" width="11" height="11"/>
<rect x="832.4" y="416.5" width="11" height="11"/>
<rect x="838.9" y="425.6" width="11" height="11"/>
<rect x="838.5" y="422.2" width="11" height="11"/>
<rect x="843.7" y="419.3" width="11" height="11"/>
<rect x="847.1" y="418.0" width="11" height="11"/>
<rect x="848.5" y="428.3" width="11" height="11"/>
<rect x="852.3" y="426.2" width="11" height="11"/>
<rect x="853.2" y="430.8" width="11" height="11"/>
<rect x="857.0" y="430.3" width="11" height="11"/>
<rect x="860.6" y="423.5" width="11" height="11"/>
<rect x="862.3" y="426.6" width="11" height="11"/>
<rect x="865.4" y="422.1" width="11" height="11"/>
<rect x="871.9" y="435.3" width="11" height="11"/>
<rect x="873.9" y="433.0" width="11" height="11"/>
<rect x="875.4" y="429.4" width="11" height="11"/>
<rect x="877.3" y="433.8" width="11" height="11"/>
<rect x="881.7" y="429.9" width="11" height="11"/>
<rect x="883.3" y="433.7" width="11" height="11"/>
<rect x="887.3" y="437.7" width="11" height="11"/>
<rect x="890.6" y="441.5" width="11" height="11"/>
<rect x="893.8" y="437.4" width="11" height="11"/>
<rect x="895.8" y="439.0" width="11" height="11"/>
<rect x="900.5" y="439.3" width="11" height="11"/>
<rect x="904.2" y="444.7" width="11" height="11"/>
<rect x="905.2" y="436.6" width="11" height="11"/>
<rect x="908.9" y="443.3" width="11" height="11"/>
<rect x="911.1" y="444.8" width="11" height="11"/>
<rect x="914.9" y="451.4" width="11" height="11"/>
<rect x="919.3" y="445.2" width="11" height="11"/>
<rect x="920.1" y="455.5" width="11" height="11"/>
<rect x="922.9" y="456.4" width="11" height="11"/>
<rect x="926.5" y="459.2" width="11" height="11"/>
<rect x="929.3" y="453.1" width="11" height="11"/>
<rect x="933.0" y="454.9" width="11" height="11"/>
<rect x="935.9" y="460.2" width="11" height="11"/>
<rect x="934.4" y="458.7" width="11" height="11"/>
<rect x="939.6" y="462.7" width="11" height="11"/>
<rect x="946.2" y="464.7" width="11" height="11"/>
<rect x="947.4" y="466.1" width="11" height="11"/>
<rect x="950.7" y="465.7" width="11" height="11"/>
<rect x="953.2" y="465.6" width="11" height="11"/>
<rect x="958.3" y="465.5" width="11" height="11"/>
<rect x="961.1" y="471.7" width="11" height="11"/>
<rect x="963.0" y="474.7" width="11" height="11"/>
<rect x="966.5" y="479.0" width="11" height="11"/>
<rect x="969.3" y="487.4" width="11" height="11"/>
<rect x="971.1" y="485.8" width="11" height="11"/>
<rect x="974.7" y="499.6" width="11" height="11"/>
<rect x="979.8" y="496.2" width="11" height="11"/>
<rect x="981.7" y="506.1" width="11" height="11"/>
<rect x="986.9" y="504.9" width="11" height="11"/>
<rect x="987.7" y="512.8" width="11" height="11"/>
<rect x="988.4" y="515.3" width="11" height="11"/>
<rect x="993.6" y="515.4" width="11" height="11"/>
<rect x="995.8" y="527.0" width="11" height="11"/>
<rect x="997.4" y="525.1" width="11" height="11"/>
<rect x="1000.4" y="532.4" width="11" height="11"/>
<rect x="1006.5" y="541.3" width="11" height="11"/>
<rect x="1009.2" y="553.0" width="11" height="11"/>
<rect x="1010.1" y="542.3" width="11" height="11"/>
<rect x="1013.5" y="533.1" width="11" height="11"/>
<rect x="1018.4" y="548.4" width="11" height="11"/>
<rect x="1020.9" y="553.8" width="11" height="11"/>
<rect x="1024.0" y="554.5" width="11" height="11"/>
<rect x="1025.0" y="562.1" width="11" height="11"/>
<rect x="1027.6" y="557.7" width="11" height="11"/>
<rect x="1033.8" y="569.2" width="11" height="11"/>
<rect x="1033.9" y="569.0" width="11" height="11"/>
<rect x="1038.0" y="569.9" width="11" height="11"/>
<rect x="1041.1" y="572.6" width="11" height="11"/>
<rect x="1043.9" y="577.0" width="11" height="11"/>
<rect x="1047.6" y="581.0" width="11" height="11"/>
<rect x="1050.2" y="579.1" width="11" height="11"/>
<rect x="1054.4" y="581.2" width="11" height="11"/>
<rect x="1056.8" y="584.4" width="11" height="11"/>
<rect x="1057.6" y="586.0" width="11" height="11"/>
<rect x="1061.2" y="593.3" width="11" height="11"/>
<rect x="1065.9" y="594.5" width="11" height="11"/>
<rect x="1067.3" y="587.3" width="11" height="11"/>
<rect x="1070.5" y="594.2" width="11" height="11"/>
<rect x="1075.4" y="594.3" width="11" height="11"/>
<rect x="1078.0" y="600.8" width="11" height="11"/>
<rect x="1080.9" y="602.7" width="11" height="11"/>
<rect x="1083.5" y="604.2" width="11" height="11"/>
<rect x="1086.6" y="611.8" width="11" height="11"/>
<rect x="1088.3" y="607.3" width="11" height="11"/>
<rect x="1093.0" y="609.3" width="11" height="11"/>
<rect x="1094.7" y="607.2" width="11" height="11"/>
<rect x="1101.6" y="610.0" width="11" height="11"/>
<rect x="1102.0" y="606.2" width="11" height="11"/>
<rect x="1101.5" y="608.0" width="11" height="11"/>
<rect x="1106.8" y="606.2" width="11" height="11"/>
<rect x="1110.3" y="610.3" width="11" height="11"/>
<rect x="1113.4" y="600.8" width="11" height="11"/>
<rect x="1116.0" y="603.7" width="11" height="11"/>
<rect x="1118.1" y="601.9" width="11" height="11"/>
<rect x="1123.6" y="599.9" width="11" height="11"/>
<rect x="1126.6" y="607.3" width="11" height="11"/>
<rect x="1130.2" y="599.2" width="11" height="11"/>
<rect x="1133.8" y="600.9" width="11" height="11"/>
<rect x="1134.6" y="599.8" width="11" height="11"/>
<rect x="1138.0" y="594.3" width="11" height="11"/>
<rect x="1141.0" y="592.2" width="11" height="11"/>
<rect x="1141.3" y="585.7" width="11" height="11"/>
<rect x="1144.4" y="583.8" width="11" height="11"/>
<rect x="1149.8" y="584.5" width="11" height="11"/>
<rect x="1153.7" y="575.9" width="11" height="11"/>
<rect x="1156.0" y="584.5" width="11" height="11"/>
<rect x="1161.1" y="586.1" width="11" height="11"/>
<rect x="1163.1" y="573.0" width="11" height="11"/>
<rect x="1165.4" y="578.0" width="11" height="11"/>
<rect x="1167.1" y="576.6" width="11" height="11"/>
<rect x="1169.9" y="566.6" width="11" height="11"/>
<rect x="1173.8" y="562.1" width="11" height="11"/>
<rect x="1175.7" y="555.4" width="11" height="11"/>
<rect x="1179.9" y="559.7" width="11" height="11"/>
<rect x="1180.7" y="555.2" width="11" height="11"/>
<rect x="1185.3" y="546.8" width="11" height="11"/>
<rect x="1188.3" y="546.4" width="11" height="11"/>
<rect x="1192.0" y="546.3" width="11" height="11"/>
<rect x="1195.1" y="539.0" width="11" height="11"/>
<rect x="1197.5" y="538.1" width="11" height="11"/>
<rect x="1201.6" y="536.2" width="11" height="11"/>
<rect x="1204.1" y="528.7" width="11" height="11"/>
<rect x="1208.3" y="526.6" width="11" height="11"/>
<rect x="1210.6" y="524.7" width="11" height="11"/>
<rect x="1213.3" y="514.1" width="11" height="11"/>
<rect x="1216.1" y="499.8" width="11" height="11"/>
<rect x="1220.8" y="476.3" width="11" height="11"/>
<rect x="1220.8" y="479.2" width="11" height="11"/>
<rect x="1224.1" y="472.3" width="11" height="11"/>
<rect x="1228.8" y="475.7" width="11" height="11"/>
<rect x="1231.9" y="456.0" width="11" height="11"/>
<rect x="1236.5" y="455.7" width="11" height="11"/>
<rect x="1234.6" y="447.8" width="11" height="11"/>
<rect x="1239.9" y="446.9" width="11" height="11"/>
<rect x="1240.7" y="440.6" width="11" height="11"/>
<rect x="1248.3" y="442.6" width="11" height="11"/>
<rect x="1250.7" y="431.9" width="11" height="11"/>
<rect x="1255.1" y="435.9" width="11" height="11"/>
<rect x="1255.1" y="438.6" width="11" height="11"/>
<rect x="1259.0" y="440.0" width="11" height="11"/>
<rect x="1262.2" y="432.0" width="11" height="11"/>
<rect x="1262.2" y="431.1" width="11" height="11"/>
<rect x="1267.0" y="440.1" width="11" height="11"/>
<rect x="1270.8" y="428.3" width="11" height="11"/>
<rect x="1271.8" y="423.9" width="11" height="11"/>
<rect x="1275.8" y="427.4" width="11" height="11"/>
<rect x="1280.8" y="429.1" width="11" height="11"/>
<rect x="1283.1" y="426.2" width="11" height="11"/>
<rect x="1284.2" y="429.9" width="11" height="11"/>
<rect x="1287.4" y="428.0" width="11" height="11"/>
<rect x="1292.1" y="430.9" width="11" height="11"/>
<rect x="1292.9" y="426.2" width="11" height="11"/>
<rect x="1296.6" y="426.1" width="11" height="11"/>
<rect x="1300.4" y="428.0" width="11" height="11"/>
<rect x="1304.7" y="421.5" width="11" height="11"/>
<rect x="1305.9" y="427.2" width="11" height="11"/>
<rect x="1309.2" y="428.5" width="11" height="11"/>
<rect x="1312.8" y="422.2" width="11" height="11"/>
<rect x="1315.1" y="420.5" width="11" height="11"/>
<rect x="1320.5" y="423.0" width="11" height="11"/>
<rect x="1321.3" y="429.8" width="11" height="11"/>
<rect x="1324.6" y="430.4" width="11" height="11"/>
<rect x="1328.7" y="425.6" width="11" height="11"/>
<rect x="1333.6" y="425.4" width="11" height="11"/>
<rect x="1332.3" y="425.4" width="11" height="11"/>
<rect x="1336.2" y="429.8" width="11" height="11"/>
<rect x="1336.2" y="423.5" width="11" height="11"/>
<rect x="1343.7" y="428.9" width="11" height="11"/>
<rect x="1346.9" y="428.2" width="11" height="11"/>
<rect x="1348.7" y="432.0" width="11" height="11"/>
<rect x="1350.9" y="429.1" width="11" height="11"/>
<rect x="1356.1" y="424.1" width="11" height="11"/>
<rect x="1356.2" y="427.3" width="11" height="11"/>
<rect x="1360.6" y="427.3" width="11" height="11"/>
<rect x="1364.4" y="422.8" width="11" height="11"/>
<rect x="1365.0" y="424.6" width="11" height="11"/>
<rect x="1372.0" y="421.9" width="11" height="11"/>
<rect x="1373.2" y="420.3" width="11" height="11"/>
<rect x="1376.7" y="428.8" width="11" height="11"/>
<rect x="1378.5" y="421.4" width="11" height="11"/>
<rect x="1382.9" y="426.9" width="11" height="11"/>
</g>
<text x="746" y="38.9" font-family="Liberation Sans, sans-serif" font-size="28.6" text-anchor="end" fill="#111">750</text>
<text x="746" y="166.6" font-family="Liberation Sans, sans-serif" font-size="28.6" text-anchor="end" fill="#111">500</text>
<text x="746" y="294.2" font-family="Liberation Sans, sans-serif" font-size="28.6" text-anchor="end" fill="#111">250</text>
<text x="746" y="421.9" font-family="Liberation Sans, sans-serif" font-size="28.6" text-anchor="end" fill="#111">0</text>
<text x="746" y="549.5" font-family="Liberation Sans, sans-serif" font-size="28.6" text-anchor="end" fill="#111">−250</text>
<text x="746" y="677.2" font-family="Liberation Sans, sans-serif" font-size="28.6" text-anchor="end" fill="#111">−500</text>
<text x="737.0" y="733.2" font-family="Liberation Sans, sans-serif" font-size="28" textLength="49.6" lengthAdjust="spacingAndGlyphs" fill="#111">1.80</text>
<text x="860.4" y="733.2" font-family="Liberation Sans, sans-serif" font-size="28" textLength="49.6" lengthAdjust="spacingAndGlyphs" fill="#111">1.82</text>
<text x="983.8" y="733.2" font-family="Liberation Sans, sans-serif" font-size="28" textLength="49.6" lengthAdjust="spacingAndGlyphs" fill="#111">1.84</text>
<text x="1107.3" y="733.2" font-family="Liberation Sans, sans-serif" font-size="28" textLength="49.6" lengthAdjust="spacingAndGlyphs" fill="#111">1.86</text>
<text x="1230.7" y="733.2" font-family="Liberation Sans, sans-serif" font-size="28" textLength="49.6" lengthAdjust="spacingAndGlyphs" fill="#111">1.88</text>
<text x="1354.1" y="733.2" font-family="Liberation Sans, sans-serif" font-size="28" textLength="49.6" lengthAdjust="spacingAndGlyphs" fill="#111">1.90</text>
<text x="951.8" y="774.9" font-family="Liberation Sans, sans-serif" font-size="27" textLength="238" lengthAdjust="spacingAndGlyphs" fill="#111">Photon energy (eV)</text>
<text transform="translate(658,584.3) rotate(-90)" x="0" y="0" font-family="Liberation Sans, sans-serif" font-size="29" textLength="379.5" lengthAdjust="spacingAndGlyphs" fill="#111">Circular luminescence (a.u.)</text>
<rect x="792.2" y="27.2" width="443.8" height="97.8" fill="#fff" stroke="#555" stroke-width="1.6"/>
<rect x="808.1" y="48.8" width="14.5" height="13.8" fill="none" stroke="#e00010" stroke-width="6.4"/>
<circle cx="815.6" cy="95.8" r="7.0" fill="none" stroke="#111" stroke-width="5.8"/>
<text x="835.2" y="68.3" font-family="Liberation Sans, sans-serif" font-size="27.5" textLength="367" lengthAdjust="spacingAndGlyphs" fill="#111">Left-handed circular excitation</text>
<text x="835.9" y="104.3" font-family="Liberation Sans, sans-serif" font-size="27.5" textLength="384.4" lengthAdjust="spacingAndGlyphs" fill="#111">Right-handed circular excitation</text>
<g font-family="Liberation Serif, serif" fill="#1e1e1e"><text x="788.5" y="186.2" font-size="27" font-style="italic">P</text><text x="806" y="193.2" font-size="21" font-style="italic">σ</text><text x="871" y="186.2" font-size="28" textLength="27.8" lengthAdjust="spacingAndGlyphs">32</text><text x="935" y="186.2" font-size="28" textLength="37.8" lengthAdjust="spacingAndGlyphs">2%</text></g><path d="M821,181.6 H830.3 M825.6,177.1 V186.1 M843.4,175.3 H860.4 M843.4,181.6 H860.4 M908.4,179.6 H925.4 M916.9,173.2 V186.0 M908.4,188.3 H925.4" stroke="#1e1e1e" stroke-width="1.7" fill="none"/>
<g font-family="Liberation Serif, serif" fill="#1e1e1e"><text x="797" y="632" font-size="27" font-style="italic">P</text><text x="811.2" y="638.2" font-size="21" font-style="italic">σ</text><text x="898" y="632" font-size="28" textLength="27.4" lengthAdjust="spacingAndGlyphs">32</text><text x="962" y="632" font-size="28" textLength="37" lengthAdjust="spacingAndGlyphs">2%</text></g><path d="M826.5,625.6 H835.8 M848,621.1 H865.8 M848,627.2 H865.8 M877.3,624.2 H894.2 M934.8,622.6 H951.8 M943.3,616.2 V629.0 M934.8,634.4 H951.8" stroke="#1e1e1e" stroke-width="1.7" fill="none"/>
<text x="631.5" y="41" font-family="Liberation Sans, sans-serif" font-weight="bold" font-size="39.5" fill="#111">B</text>
</svg></body></html>
